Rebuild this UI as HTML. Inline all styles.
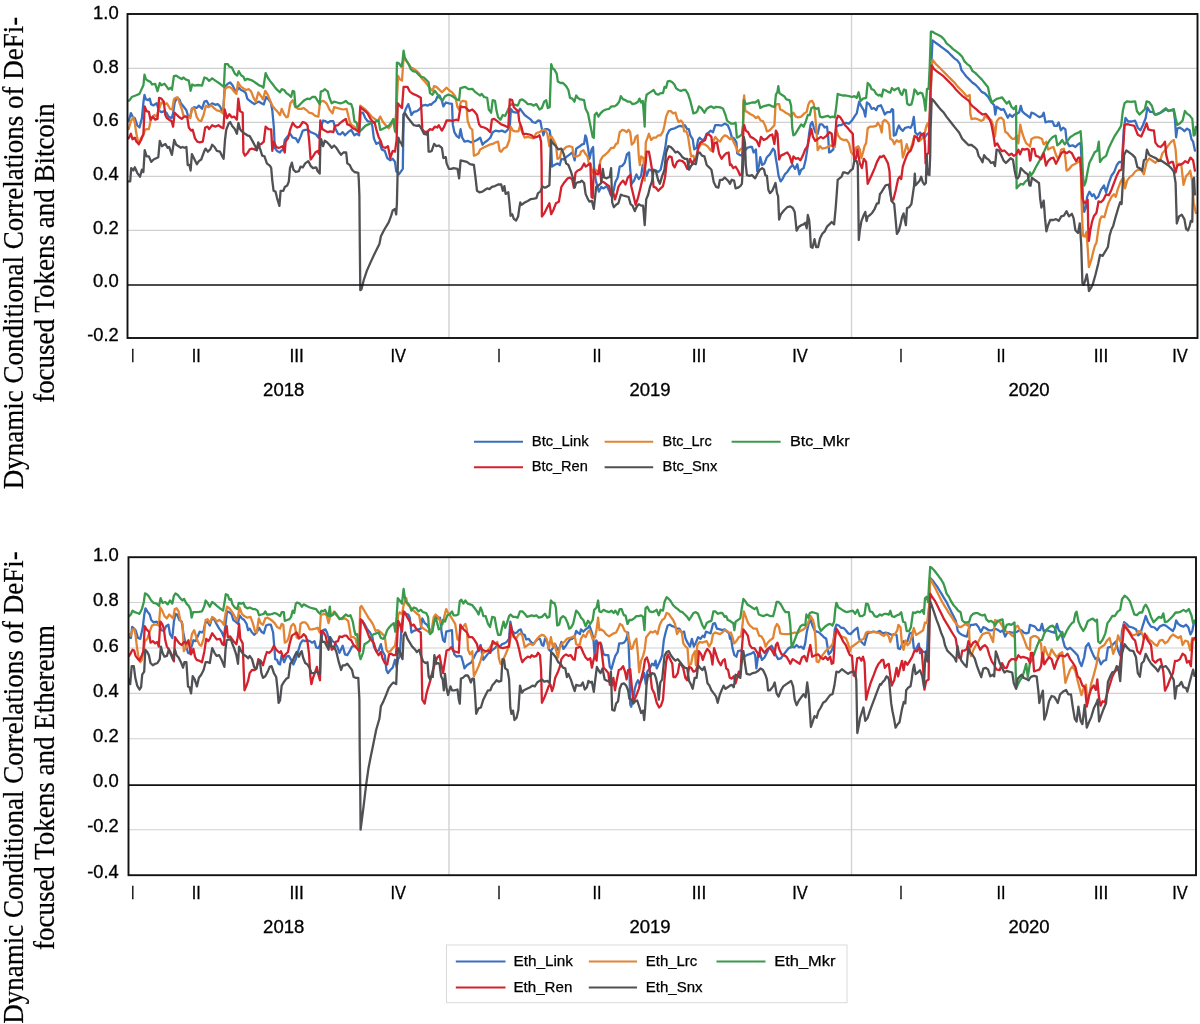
<!DOCTYPE html>
<html><head><meta charset="utf-8"><title>DCC charts</title>
<style>
html,body{margin:0;padding:0;background:#fff;}
svg{display:block}
.ax{font-family:"Liberation Sans",sans-serif;font-size:17.5px;fill:#000;stroke:#000;stroke-width:0.3}
.lg{font-family:"Liberation Sans",sans-serif;font-size:14.5px;fill:#000;stroke:#000;stroke-width:0.25}
.yt{font-family:"Liberation Serif",serif;font-size:27px;fill:#000;stroke:#000;stroke-width:0.2}
.s{fill:none;stroke-width:2.3;stroke-linejoin:round;stroke-linecap:round}
.g{stroke:#d0d0d0;stroke-width:1.1;fill:none}
</style></head><body>
<svg width="1200" height="1024" viewBox="0 0 1200 1024">
<rect width="1200" height="1024" fill="#fff"/>

<defs><clipPath id="cBtc"><rect x="127.5" y="14" width="1070" height="324"/></clipPath><clipPath id="cEth"><rect x="128" y="556.7" width="1067" height="318"/></clipPath></defs>
<text class="ax" x="118.7" y="19.0" text-anchor="end" textLength="25.6" lengthAdjust="spacingAndGlyphs">1.0</text>
<line class="g" x1="127.5" x2="1197.5" y1="68.40" y2="68.40"/>
<text class="ax" x="118.7" y="72.7" text-anchor="end" textLength="25.6" lengthAdjust="spacingAndGlyphs">0.8</text>
<line class="g" x1="127.5" x2="1197.5" y1="122.40" y2="122.40"/>
<text class="ax" x="118.7" y="126.3" text-anchor="end" textLength="25.6" lengthAdjust="spacingAndGlyphs">0.6</text>
<line class="g" x1="127.5" x2="1197.5" y1="176.40" y2="176.40"/>
<text class="ax" x="118.7" y="180.0" text-anchor="end" textLength="25.6" lengthAdjust="spacingAndGlyphs">0.4</text>
<line class="g" x1="127.5" x2="1197.5" y1="230.40" y2="230.40"/>
<text class="ax" x="118.7" y="233.6" text-anchor="end" textLength="25.6" lengthAdjust="spacingAndGlyphs">0.2</text>
<text class="ax" x="118.7" y="287.3" text-anchor="end" textLength="25.6" lengthAdjust="spacingAndGlyphs">0.0</text>
<text class="ax" x="118.7" y="341.0" text-anchor="end" textLength="31.5" lengthAdjust="spacingAndGlyphs">-0.2</text>
<line x1="449" x2="449" y1="14" y2="338" stroke="#d2d2d2" stroke-width="1.4"/>
<line x1="851.5" x2="851.5" y1="14" y2="338" stroke="#d2d2d2" stroke-width="1.4"/>
<g clip-path="url(#cBtc)">
<polyline class="s" stroke="#3a6fc0" points="128.6,121.2 130.9,113.1 132.5,116.6 134.8,118.1 137.2,125.2 139.5,127.5 141.9,118.1 143.4,102.5 144.5,95 145.8,99.1 148.1,100.2 149.7,98.6 151.2,104.4 153.6,105.3 156.7,103.3 158.3,108.8 159.8,111.1 161.4,112.2 164.5,111.1 166.9,113.4 168.4,116.6 171.6,118.1 173.1,113.4 174.7,102.5 177,97.8 179.4,99.4 180.9,103.3 184.1,107.2 186.4,110.3 188,115.8 190.3,116.6 191.9,108.8 194.2,107.2 196.6,108 198.9,105.6 202,108.8 204.4,101.7 206.7,100.9 209.1,105.6 212.2,103.3 215.3,104.8 217.7,104.1 220,106.4 223.1,113.4 224.7,86.9 227.8,83.8 230.2,82.5 232.5,85.3 234.8,90 236.4,91.6 238.8,87.7 241.1,90 244.2,91.6 245.8,93.1 247.3,98.6 248.9,100.2 252,102.5 254.4,104.1 256.7,102.5 259.1,101.7 261.4,103.3 263.8,104.4 266.1,97 268.4,99.4 270.8,102.5 272.3,110.3 273.9,127.5 274.7,147.8 277,150.9 280,152.5 280.9,150.9 283.3,149.4 284.8,140 287.2,136.9 290.3,133.8 292.7,137.7 295.8,138.4 298.1,142.3 300.5,136.9 302.8,130.6 305.2,129.8 308.3,129.8 310.6,132.2 313,133 316.1,134.5 318.4,137.7 320,130.6 323.1,120.5 325.5,121.2 327.8,122.8 330.2,121.2 333.3,121.2 335.6,129.1 338,133.8 340.3,134.5 342.7,132.2 345,135.3 348.1,132.2 351.2,129.8 354.4,135.3 356.7,133.8 359.1,135.3 360.6,112.7 363,112.7 365.3,118.1 367.7,121.2 370.8,122 372.3,125.9 373.9,138.4 376.2,143.9 379.4,142.3 381.7,149.4 384.8,150.9 387.2,158 390.3,160.3 392.7,158.8 395,161.9 396.2,171.2 397.3,172 398.9,174.4 401.2,171.2 402.8,168.9 403.6,115 405.9,108.8 408.3,104.1 409.8,108.8 411.4,115 413.8,111.9 416.9,111.1 419.2,109.5 422.3,105.6 425.5,104.8 427.8,105.6 430,104.1 430.9,104.8 433.3,102.5 435.6,100.9 437.2,97 439.5,95.5 441.9,100.9 443.4,106.4 445.8,102.5 448.9,103.3 452,103.8 452.8,124.4 454.4,132.2 456.7,136.1 459.1,137.7 460.6,129.1 462.2,137.7 464.5,141.6 467.7,140.8 470.8,142.3 473.9,141.6 477,140 480.2,137.7 482.5,144.7 484.8,142.3 487.2,140.8 490.3,137.7 492.7,132.2 495.8,130.6 498.9,131.4 502,130.6 505.2,132.2 508.3,129.1 509.8,126.7 510.9,108.8 513,111.9 516.1,112.7 518.4,111.9 520,108.8 522.3,111.9 524.7,115 527.8,117.3 530.9,119.7 532.5,122 535.6,122.8 538,120.5 540.3,120.9 541.9,129.1 543.4,135.3 545,129.1 547.3,129.1 549.7,130.6 550.9,139.2 552,166.6 554.4,165 557.5,163.4 559.8,165 561.4,158.8 563.8,159.5 566.1,157.2 569.2,154.8 572.3,152.5 574.7,160.3 576.2,148.6 578.6,147 580,146.2 581.7,144.7 584.1,143.9 585.3,135.3 586.4,137.7 588,147.8 589.5,158.8 591.6,149.4 593.1,147 594.2,169.7 595.8,180.6 597.3,186.1 598.9,191.6 601.2,186.9 603.6,188.4 606.7,186.1 609.1,190.8 611.4,196.2 613.8,190 615.3,182.2 617.7,177.5 619.7,166.6 622.3,165.8 624.7,162.7 627,154.1 629.1,152.5 630.2,169.7 631.7,183.8 634.1,180.6 636.4,174.4 638.8,179.1 641.1,175.9 642.7,165 644.7,168.1 646.6,175.9 648.9,169.7 651.2,170.5 653.6,169.7 655.9,170.5 658.3,172 660.6,169.7 663,158.8 665.3,147.8 666.9,135.3 669.2,130.6 671.6,129.1 674.7,128.3 677.8,126.7 680.2,125.9 682.5,126.7 684.8,125.2 687.2,129.1 688.8,129.1 690.3,135.3 692.7,139.2 694.2,149.4 696.6,147.8 698.1,140 699.7,137.7 702,140 704.4,139.2 706.7,133.8 709.1,132.2 710.6,130.6 713,132.2 715.3,125.2 718.4,125.2 721.6,125.6 724.7,123.6 727.8,125.2 730,130.6 731.7,136.9 734.1,138.4 736.4,142.3 737.2,153.3 739.5,154.8 741.9,155.6 743.4,147.8 745,150.9 747.3,147.8 749.7,147 752,147 753.6,152.5 755.9,149.4 757.2,171.2 759.1,165 760.3,157.2 762.2,165 764.5,163.4 766.9,157.2 770,154.1 773.1,148.6 774.7,150.9 775.9,158.8 777,165 778.6,175.9 780.6,181.4 782.5,179.1 784.8,174.4 787.2,172 790.3,167.3 792.7,165 795,168.9 797.3,164.2 799.4,174.4 801.2,169.7 803.6,168.1 805.6,160.3 807.5,147.8 809.1,133.8 810.6,124.4 812.2,122 813.8,127.5 815.3,132.2 817.7,133.8 819.7,124.4 822.3,124.4 824.7,127.5 827,126.7 828.1,135.3 829.1,152.5 830.9,151.7 833.3,149.4 834.8,136.9 836.4,126.7 838.8,125.2 841.1,125.2 843.4,123.6 845.8,122.8 848.9,123.6 852,120.5 854.4,116.6 856.7,113.4 859.1,101.7 861.4,106.4 863.8,110.3 865.3,116.6 866.9,102.5 869.2,104.1 871.6,108.8 873.9,108 876.2,110.3 877.8,106.4 880,105.6 880.9,105.2 883.3,110.6 884.8,114.5 887.2,112.2 890.3,112.2 891.9,109.1 893.1,109.8 893.8,135.6 895.8,134.8 897.3,129.4 898.9,125.5 900.5,128.6 902.8,130.9 905.2,127.8 908.3,127 910.6,127.8 912.2,124.7 913.8,116.9 915.3,132.5 917.7,134.8 920,132.5 922.3,135.6 924.7,137.2 927,134.1 929.4,132.5 930.6,98.1 931.7,57.5 932.5,40.3 935.6,42.7 938.8,45 941.9,47.3 945,49.7 948.1,52 951.2,55.2 954.4,58.3 957.5,60.6 959.8,63.8 961.4,70 963.8,73.1 966.1,76.2 969.2,79.4 972.3,82.5 975.5,84.8 978.6,88 981.7,91.9 984.8,93.4 988,96.6 991.1,102 994.2,105.2 995.3,114.5 996.6,106.7 998.9,108.3 1001.2,109.8 1003.6,109.1 1005.9,113.8 1007.8,117.7 1009.8,114.5 1012.2,116.9 1014.5,114.5 1016.9,113.8 1019.2,112.2 1020.8,105.9 1022.3,111.4 1024.7,113.8 1027,115.3 1030,117.7 1031.4,112.7 1034.1,113.6 1036.7,115.4 1039.3,117.1 1042,116.2 1043.7,112.7 1045.5,122.4 1048.1,121.5 1052.5,121.5 1054.3,125.9 1056.9,125.9 1058.7,122.4 1060.8,130.3 1063.1,127.7 1065.4,129.4 1066.6,140.9 1069.2,146.1 1072.7,145.3 1075.4,147 1078,144.4 1080.6,142.6 1081.9,165.5 1082.9,200.6 1084.2,211.9 1085.9,207.5 1087.1,196.9 1089.4,191.7 1092.1,196.1 1093.8,194.3 1095.9,198.7 1098.2,196.9 1100.9,189.9 1104,185.5 1106.1,192.5 1108.8,182.9 1111.4,175.8 1114,172.3 1116.7,165.3 1119.3,161.8 1122,162 1123.7,130.3 1125.5,118 1128.1,121.5 1131.6,121.5 1135.1,120.6 1137.8,127.7 1140.4,130.3 1143,125 1145.7,118 1147.4,107.5 1150.1,111.9 1152.7,111.9 1155.4,114.5 1158,113.6 1160.6,112.7 1163.3,111 1165.9,109.2 1168.5,111 1171.2,110.1 1173.8,111 1175,119.8 1176.1,137.3 1177.3,128.6 1180,127.7 1182.6,129.4 1184.4,131.2 1187,128.6 1189.6,130.3 1191.4,139.1 1193.1,141.7 1194.9,150.5"/>
<polyline class="s" stroke="#e28432" points="128.6,129.1 130.9,121.2 133.3,117.3 134.8,122.8 136.4,133.8 138.8,144.7 141.1,137.7 143.4,135.3 145,129.8 146.6,129.1 148.9,129.1 150.5,121.2 152,117.3 154.4,115 156.7,116.6 159.1,108.8 161.4,102.5 164.5,104.1 166.9,103.3 170,108.8 172.3,109.5 173.9,99.4 175.5,97.8 177.8,97.5 179.4,102.5 181.7,108.8 183.3,115 185.6,116.6 188.8,116.6 190.3,118.1 191.9,108.8 193.4,108 195,110.3 196.6,116.6 198.9,120.5 201.2,121.2 203.6,115 205.9,105.6 208.3,107.2 211.4,105.3 213.8,108 216.9,110.3 220,111.1 223.1,113.4 224.7,90 226.2,87.7 229.4,86.9 231.7,88.4 234.1,91.6 236.4,93.9 238,82.2 240.3,86.1 243.4,88.4 245.8,90 248.9,89.2 251.2,91.6 253.6,97.8 255.9,101.7 258.3,92.3 260.6,95.5 263,99.4 265.3,90.8 267.7,94.7 270,100.2 272.3,105.6 274.7,108.8 277,111.1 280,115 281.7,108.8 284.1,114.2 286.4,117.3 288,116.6 290.3,103.3 292.7,100.2 295,106.4 298.1,108.8 301.2,108.8 303.6,108 306.7,110.3 309.1,112.7 312.2,113.4 315.3,115.8 318.4,116.6 320,102.5 322.3,100.9 324.7,101.7 327,104.1 329.4,109.5 332.5,113.4 334.1,107.2 337.2,108 340.3,108.8 343.4,109.5 346.6,108.8 348.1,115 350,122.8 352,125.2 354.4,126.7 356.7,129.1 358.8,132.2 360.3,105.6 362.2,107.2 365.3,109.5 368.4,112.7 371.6,116.6 374.7,118.9 377.8,121.2 380.2,116.6 382.5,121.2 385.6,125.2 388.8,128.3 391.1,125.2 393.4,119.7 395,129.1 396.6,105.6 398.1,75.9 399.7,79.1 402,80.6 403.6,57.2 405.9,60.3 408.3,63.4 410.6,67.3 413.8,68.9 416.9,71.2 419.2,73.6 421.6,78.3 424.7,81.4 427.8,85.3 430,88.4 432.5,90.8 434.1,86.1 436.4,86.9 438.8,89.2 441.9,92.3 444.2,90 446.6,87.7 448.9,90 452,92.3 455.2,96.2 457.5,107.2 459.1,109.5 460.9,101.7 463,100.9 466.1,101.7 467.7,121.2 470,127.5 472.3,129.8 473.9,155.6 476.2,154.8 478.6,153.3 480.2,149.4 483.3,147.8 486.4,146.2 489.5,144.7 492.7,143.9 495.8,142.3 498.1,141.6 499.7,150.9 501.2,151.7 503.6,148.6 506.7,147 509.4,140 510.6,126.7 513,130.6 515.3,131.4 518.4,131.4 520,125.9 521.6,130.6 524.7,137.7 527.8,136.9 530.9,137.7 533.3,138.4 536.4,133 539.5,132.2 542.7,129.8 545,129.8 547.3,133.8 549.4,146.2 551.2,136.1 553.6,140 555.9,144.7 557.5,158.8 559.8,158 561.4,150.9 563.8,149.4 566.1,147 569.2,146.2 572.3,147 573.9,156.4 577,156.4 580,154.8 580.9,151.7 583.3,150.2 585.6,154.1 587.5,156.4 588.8,163.4 590.6,164.2 591.9,169.7 594.2,174.4 595.8,169.7 597.3,171.2 598.9,170.5 600.5,160.3 602.8,156.4 605.2,154.8 608.3,151.7 611.4,147.8 613.8,147.8 616.1,143.9 617.7,143.1 619.7,132.2 622.3,129.8 624.7,130.6 626.6,132.2 628.6,129.8 630.2,132.2 631.7,144.7 634.1,142.3 635.6,136.9 637.5,135.3 638.8,156.4 639.8,165 641.1,156.4 643.4,158 644.7,180.6 645.8,142.3 647.3,138.4 648.9,133.8 651.2,140 653.6,137.7 655.9,137.7 658.3,135.3 660.6,135.3 663,131.4 664.5,125.2 666.1,116.6 668.4,111.1 670.8,111.1 673.1,113.4 675.5,112.7 677,118.1 678.6,122 680.9,120.5 682.8,122.8 684.1,131.4 686.4,131.4 688,136.1 689.5,146.2 691.1,156.4 693.4,155.6 695,161.1 696.9,154.1 698.1,149.4 700.5,144.7 702.8,143.9 705.2,144.7 707.5,146.2 709.8,149.4 711.4,150.9 713,141.6 715.3,136.9 717.7,140 720,141.6 722.3,137.7 724.7,135.3 727,136.1 730,139.2 731.7,137.7 734.1,143.1 736.4,147.8 738,152.5 740.3,149.4 742.7,147.8 743.4,102.5 744.2,95.5 745.3,111.1 747.3,111.9 750.5,114.2 753.6,115.8 755.9,118.1 758.3,116.6 760.6,120.5 763,121.2 765.3,125.9 766.9,131.4 769.2,130.6 771.6,128.3 774.4,125.2 775.5,105.6 777,104.1 779.1,104.1 780.2,109.5 782.5,110.3 785.6,112.7 788.8,114.2 791.1,116.6 793.4,112.7 795.8,116.6 798.1,117.3 801.2,116.6 804.4,113.4 806.7,111.9 808.3,104.8 809.8,101.7 812.2,100.9 813.8,104.1 815,113.4 816.6,132.2 817.7,150.2 820,146.2 822.3,148.6 825.5,147.8 827.8,147 830.2,145.5 832.5,146.2 834.8,147 836.4,129.1 838,135.3 840.3,138.4 843.4,140 846.6,140 848.9,143.1 851.2,152.5 853.6,154.8 855.9,147.8 858.3,146.2 859.8,149.4 861.4,158 863,152.5 864.5,146.2 866.1,143.1 867.7,128.3 870,126.7 873.1,126.7 876.2,125.9 877.8,122.8 880,125.9 881.7,132.5 882.8,121.6 884.8,120 887.2,121.6 889.1,124.7 890.3,138.8 892.7,140.3 894.2,144.2 896.6,140.3 898.9,141.9 901.2,140.3 902.8,157.5 904.4,152.8 906.7,144.2 908.3,149.7 909.8,151.2 912.2,144.2 914.5,135.6 916.9,137.2 919.2,141.1 921.6,138.8 923.9,137.2 926.2,126.2 927.8,123.1 929.4,129.4 930.6,98.1 931.7,66.9 932.5,59.8 935.6,63.8 938.8,66.9 941.9,70 945,73.1 948.1,76.2 951.2,79.4 954.4,82.5 957.5,86.4 960.6,89.5 963.8,92.7 966.9,96.6 969.7,95 970.3,113.8 971.6,119.2 974.7,118.4 977.8,119.2 980.9,120.8 983.3,120 984.8,116.1 988,118.4 991.1,120 993.4,126.2 995,136.4 996.6,121.6 998.9,118.4 1001.2,117.7 1003.6,120 1005.2,131.7 1007.5,133.3 1009.8,136.4 1012.2,138.8 1014.5,138.8 1016.9,135.6 1018.4,143.4 1020.3,124.7 1021.6,130.9 1023.9,138 1026.2,143.4 1028.6,145 1030,146.6 1031.4,139.1 1034.9,137.3 1038.5,137.3 1042,139.1 1043.7,144.4 1046.4,141.7 1048.1,149.6 1050.8,147.9 1053.4,147 1056,154.9 1057.8,158.4 1059.6,155.8 1061.3,149.6 1063.9,148.8 1065.4,158.4 1066.6,170.7 1069.2,169 1071.9,165.5 1075.4,163.7 1078,162 1080.6,160.2 1081.5,200.4 1082.9,235.6 1084.7,236.5 1086.4,232.1 1087.7,247.9 1088.9,267.2 1091.2,260.2 1092.9,253.2 1094.7,246.2 1096.5,242.6 1098.2,230.3 1100,219.8 1101.7,216.3 1104.4,217.1 1107,207.5 1108.8,202.2 1111.4,196.9 1114,194.3 1115.8,196.9 1117.6,189.9 1120.2,182.9 1122,179.4 1123.7,177.8 1125.1,188.3 1127.2,180.4 1129.9,176.9 1132.5,175.1 1135.1,171.6 1137.8,169.9 1141.3,169.9 1143.9,174.3 1146.6,162 1149.2,158.4 1151.8,160.2 1155.4,162.8 1158,160.2 1160.6,159.3 1162.4,153.2 1165,150.5 1167.7,146.1 1171.2,141.7 1173.8,140 1175.6,149.6 1176.8,165.5 1179.1,163.7 1181.4,165.5 1183.5,184.8 1186.1,176 1188.8,173.4 1190.2,170.7 1191.9,179.5 1193.7,202.4 1195.8,212.9"/>
<polyline class="s" stroke="#3a9a4c" points="128.6,100.9 130.2,99.4 131.7,97 135.6,95.5 139.5,93.9 141.9,88.4 143.4,85.3 144.5,74.7 145.8,79.1 148.1,80.9 150.5,81.9 152,84.5 155.2,83.8 157.5,91.2 159.8,83 161.4,85.3 164.5,83.8 166.9,86.9 168.4,89.2 170.8,87.7 172,89.7 173.9,76.2 176.2,75.6 178.6,77.2 181.7,79.1 183.3,77.5 185.6,79.4 188.8,80.6 190.6,90.8 192.2,84.5 194.2,85.6 198.1,85 202,85.6 204.4,77.5 206.7,78.3 209.1,80.9 212.2,78.3 215.3,80.6 220,83.8 223.9,86.9 225,64.2 227.8,64.2 229.4,66.6 231.7,67.3 234.8,73.6 237.2,75.6 238.8,71.2 241.1,75.2 243.4,76.7 245,80.3 247.3,78.8 250.5,79.8 252.8,80.9 255.9,83 259.1,85.3 261.4,86.1 263.4,87.7 265.6,73.1 267.7,77.5 270,80.9 272.3,83.8 274.7,86.9 277,89.7 280,92.3 281.7,89.2 284.1,90 286.4,93.1 288.8,94.7 291.1,97 292.7,90.8 294.2,91.6 295.5,107.2 298.1,106.4 301.2,103.3 304.4,100.2 307.5,98.6 309.8,99.1 312.2,97 315.3,97 317.7,100.9 319.7,104.1 320.8,91.6 323.1,90.8 324.7,89.2 327.8,91.6 329.4,97.8 331.7,103.3 334.1,101.7 337.2,102.5 340.3,103.3 343.4,102.5 345.8,100.9 348.1,103.3 351.2,104.1 352.8,108.8 354.4,121.2 356.7,122.8 357.8,128.3 359.8,131.4 362.2,129.1 365.3,125.9 368.4,124.4 371.6,122.8 373.9,122.8 376.2,121.2 378.6,120.5 380.2,129.8 382.5,129.1 385.6,127.5 388.8,125.9 391.1,122.8 393.4,118.9 395,131.4 395.8,132.2 396.9,62.7 398.9,63.4 401.2,66.6 402.5,61.9 403.6,50.6 404.7,57.2 406.7,61.1 409.1,65 410.6,68.9 413,71.2 416.1,72 418.4,74.4 420.8,76.7 423.9,77.5 426.2,79.8 428.6,82.2 430,93.1 432.5,94.7 434.8,90.8 437.2,93.9 439.5,97.8 442.7,100.2 445,96.2 448.1,94.7 451.2,95.5 453.6,97 456.7,99.4 459.1,100.2 460.3,88.4 462.2,87.7 465.3,86.9 468.4,89.2 472.3,88.8 474.7,91.6 477.8,93.9 480.2,95.5 481.7,93.9 484.1,97 487.2,97.8 488.8,109.5 491.1,112.7 492.7,100.2 495,100.9 496.6,111.1 498.1,117.3 500.5,119.7 502.8,115 505.2,115.8 507.5,111.1 509.8,105.6 512.2,104.1 515.3,104.8 517.7,105.6 520,100.2 522.3,99.4 525.5,101.7 527.8,104.1 530.9,104.1 533.3,105.6 536.4,104.1 539.5,109.5 541.9,108 544.2,101.7 546.2,100.2 547.8,108 549.7,107.2 551.2,64.2 552.5,68.1 554.4,69.7 556.7,73.6 557.8,81.4 560.6,83 563,83 566.1,86.1 568.4,90 570,97.8 572.3,98.6 574.4,101.7 576.2,95.5 577.8,97.8 580,99.4 580.9,99.4 584.1,100.2 585.6,108.8 588,113.4 589.5,121.2 591.1,129.1 592.7,136.9 593.8,137.7 594.7,115 596.6,112.7 598.4,116.6 600.5,113.4 602.8,111.1 605.9,109.5 609.1,108.8 611.4,106.4 614.5,106.4 616.9,104.8 619.2,101.7 620.8,96.2 623.1,99.4 625.5,100.2 627.8,101.7 630.2,101.7 632.5,104.1 635.6,103.3 638,101.7 639.5,98.6 641.1,102.5 642.7,100.9 643.8,113.4 644.7,126.7 645.3,102.5 646.6,94.7 648.9,93.1 651.2,91.6 653.6,90 655.9,93.9 658.3,94.7 660.6,93.1 663,93.1 664.5,86.9 666.1,87.7 667.7,81.4 670,80.9 672.3,82.2 674.4,84.5 676.2,88.4 678.6,90 680.9,90.8 683.3,90 685.6,90 688,93.9 690.3,100.9 691.9,107.2 693.4,113.4 695.8,112.7 697.3,111.1 698.9,106.4 701.2,108 704.4,112.7 706.7,108.8 709.1,107.2 711.4,106.4 713.8,108 716.1,106.9 718.4,107.2 720.8,107.5 723.1,108.8 725.5,115 727,120.5 728.6,122 730,122.8 730.9,123.6 733.3,123.6 735.6,122.8 736.9,137.7 738.8,136.9 741.9,134.5 743.1,124.4 743.9,100.2 745.8,104.1 748.9,103.3 752,102.5 755.2,102.5 758.3,100.2 760.3,108 763,106.4 766.1,105.6 769.2,104.8 772.3,106.4 774.7,107.2 775.9,94.7 777.5,91.6 778.3,86.1 779.4,93.1 781.7,94.7 784.1,96.2 786.4,99.4 789.5,100.2 791.1,105.6 792.2,127.5 793.4,135.3 795,134.5 797.3,130.6 799.7,126.7 801.2,124.4 803.6,126.7 805.9,121.2 807.8,115 809.8,115 811.4,108 813.8,107.2 816.1,108.8 818.4,108 820,116.6 822.3,117.3 824.7,116.6 827.8,115.8 830.2,117.3 832.5,116.6 834.8,117.3 836.4,105.6 837.7,93.9 839.5,94.7 842.7,95.5 845.8,95.5 848.9,96.2 852,97 854.4,96.2 856.7,97.8 858.6,92.3 860.6,100.9 863,98.6 866.1,97.8 867.7,83 870,85.3 871.6,89.2 873.9,90 876.2,93.9 878.6,95.5 880,94.7 881.7,96.6 883.3,89.5 885.6,90.3 888,91.9 890.3,92.7 891.9,88 894.2,90.3 896.6,88.8 898.4,88 900.5,93.4 902,95 904.1,89.5 905.9,90.3 907.2,103.6 909.1,105.2 911.4,104.4 913,98.1 914.5,89.5 916.1,91.1 917.7,94.2 920,92.7 922.3,93.4 923.9,98.9 925.5,110.6 927,88.8 928.6,88.8 929.7,66.9 930.9,31.7 932.5,31.7 934.8,33.3 938,34.8 941.1,36.4 944.2,39.5 946.6,43.4 949.7,45.8 952.8,48.9 955.9,51.2 959.1,53.6 962.2,56.7 964.5,61.4 966.9,63.8 970,66.1 972.3,70.8 975.5,73.1 978.6,76.2 981.7,79.4 984.8,83.3 988,87.2 989.5,95 991.9,102.8 993.4,101.2 996.6,98.9 999.7,98.1 1002,97.3 1004.4,100.5 1006.7,103.6 1009.1,101.2 1011.4,106.7 1013.8,109.1 1016.1,105.9 1016.6,188.4 1018.4,186.1 1020.8,183.8 1023.1,184.5 1025.5,181.4 1027.8,179.8 1029.4,174.4 1030,172.3 1030.5,176 1033.2,172.5 1035.8,167.2 1039.3,161.1 1042,155.8 1044.6,150.5 1047.2,144.4 1049.9,140 1052.5,137.3 1055.7,135.6 1057.3,145.3 1059.6,143.5 1062.2,140 1064.8,144.4 1067.5,140.9 1070.1,137.3 1072.7,135.6 1075.4,133.8 1078,132.9 1080.6,131.2 1081.9,147.9 1082.9,176 1084.2,185.7 1085.9,181.3 1087.7,170.7 1089.4,162.8 1092.1,157.6 1094.7,152.3 1097.3,150.5 1098.8,141.7 1100,162 1102.6,158.4 1106.1,155.8 1108.8,147.9 1111.4,142.6 1114.9,135.6 1118.4,130.3 1121.1,125.9 1122.8,111 1124.6,103.1 1127.2,101.3 1130.7,101.8 1135.1,101.3 1136.9,111 1139.5,114.5 1142.2,111.9 1144.8,109.2 1146.6,101.3 1149.2,102.2 1151.8,105.7 1154.5,114.5 1157.1,114.5 1160.6,112.7 1163.3,110.1 1165.9,108.3 1168.5,111 1171.2,110.1 1173.8,109.2 1175.6,118 1177.3,125 1180,123.3 1182.6,120.6 1184.9,111 1187,113.6 1189.6,115.4 1192.3,118.9 1193.7,135.6 1194.9,134.7 1195.8,126.8"/>
<polyline class="s" stroke="#d3222d" points="128.6,138.4 130.9,133.8 132.5,139.2 134.8,137.7 136.4,141.6 138.8,143.9 141.1,140 143.4,133.8 144.7,106.4 146.6,111.1 148.9,111.9 150.5,119.7 152.8,116.6 155.2,119.7 157.5,118.9 159.1,97.8 161.4,98.6 163.8,101.7 165.3,115 166.9,118.1 169.2,119.7 171.6,121.2 173.1,126.7 174.7,112.7 177,115 179.4,117.3 181.7,118.9 184.1,116.6 187.2,116.6 188.8,127.5 191.1,130.6 192.7,129.8 195,138.4 197.3,141.6 199.7,142.3 202.8,141.6 205.2,127.5 207.5,126.7 209.1,129.1 212.2,125.2 215.3,126.7 218.4,125.2 221.6,127.5 223.4,128.3 224.7,109.5 227,118.1 229.4,114.2 231.7,117.3 234.1,116.6 236.9,119.7 238.3,98.6 240,111.1 242.7,112.7 243.4,152.5 245,155.6 247.3,153.3 249.7,149.4 252,148.6 254.4,149.4 256.7,150.2 259.1,144.7 261.4,143.9 263.8,141.6 265.6,126.7 268.4,129.1 271.2,129.4 272.3,150.9 273.9,141.6 276.2,147 278.6,147.8 280,147.5 282.5,146.2 284.8,152.5 285.6,141.6 288,138.4 290.3,129.1 292.7,122.8 295,125.9 297.3,127.5 299.7,126.7 302.8,122 305.2,122.8 307.5,125.2 309.1,140 310.6,159.5 313,156.4 315.3,152.5 317.7,150.9 319.2,154.1 320.3,120.5 322.3,129.1 324.7,130.6 327.8,132.2 330.2,131.4 333.3,132.2 334.8,125.9 338,125.2 340.3,122.8 343.4,120.5 345.8,118.9 347.3,124.4 349.7,125.2 352.8,128.3 355.9,129.8 359.1,132.2 360.3,107.2 362.2,108.8 365.3,111.1 367.7,113.4 370,118.1 372.3,121.2 374.7,122.8 376.2,129.1 378.6,136.9 380.9,141.6 382.5,147 385.6,147.8 388,146.2 390.3,158 392.7,150.9 395,151.7 396.6,140 397.8,103.3 399.7,105.6 402,108 403.6,86.9 407.5,86.9 409.8,91.6 413,93.9 416.9,95.5 420.8,97.8 422.3,129.1 424.7,132.2 427.8,131.4 430,129.1 432.5,129.8 434.8,126.7 437.2,127.5 438.8,125.2 441.9,130.6 444.2,126.7 446.6,120.5 449.7,120.5 452.8,120.9 455.9,119.7 458.3,120.5 460.6,106.4 463,107.2 465.3,107.2 466.9,108.8 469.2,111.1 472.3,109.5 474.7,111.9 477,115 479.1,124.4 480.9,126.7 484.1,127.5 487.2,129.1 490.3,132.2 491.9,119.7 494.2,118.9 497.3,121.2 501.2,124.4 505.2,125.9 508.3,127.5 509.8,99.4 512.2,100.2 513.8,107.2 516.1,109.5 518.1,111.1 519.2,121.2 521.6,127.5 523.1,133.8 526.2,133.8 529.4,134.5 531.7,135.3 534.1,137.7 537.2,136.9 539.5,135.3 541.1,141.6 541.6,163.4 541.9,216.6 544.2,213.4 547.3,207.2 549.4,203.3 551.2,214.2 553.6,209.5 555.9,203.3 558.8,201.7 559.8,196.2 561.4,186.9 564.5,182.2 567.7,178.3 570,177.5 572.3,179.8 573.9,187.7 575.5,172.8 577.8,170.5 580,169.7 581.7,168.1 584.1,163.4 585.6,166.6 588,165 590.3,163.4 591.6,197 592.7,197.8 593.8,169.7 595.8,173.6 598.1,174.4 599.7,165 601.2,181.4 603.6,182.2 606.7,184.5 609.1,186.1 610.9,194.7 613,191.6 615,199.4 616.9,193.1 618.4,186.9 620.8,183 623.1,180.6 625.5,184.5 627.8,177.5 630.2,175.2 631.2,186.1 633.3,194.7 635.6,204.8 638,197.8 640.3,188.4 641.9,181.4 644.2,173.6 645.8,161.9 646.6,151.7 648.9,151.7 650.5,160.3 652,169.7 653.6,186.9 655.9,187.7 658.3,190.8 660.6,188.4 663,186.1 665,177.5 666.9,161.1 669.2,156.4 671.6,157.2 673.1,165 674.7,167.3 677,161.9 679.4,160.3 682.5,161.1 684.8,163.4 687.2,168.9 690,158.8 691.9,163.4 694.2,160.3 696.6,158 698.1,147.8 700.5,142.3 702.8,141.6 705.2,140 706.7,134.5 709.1,134.5 711.4,136.9 713,151.7 714.5,143.1 716.9,142.3 719.2,154.1 721.6,158.8 723.9,155.6 726.2,153.3 728.6,152.5 730,165 730.9,164.2 733.3,168.1 735.6,166.6 738,170.5 740,175.2 741.9,174.4 743.4,129.1 744.2,125.2 745.8,130.6 748.1,132.2 750.5,136.9 753.6,138.4 756.7,140.8 759.1,146.2 760.9,136.9 763.8,140 766.9,138.4 770,135.3 772.3,134.5 774.4,143.9 775.9,130.6 777.5,133.8 779.1,159.5 780.9,155.6 784.1,154.1 787.2,152.5 789.5,155.6 791.9,163.4 793.4,156.4 795.8,158.8 798.1,158 800.5,160.3 802.8,155.6 805.2,149.4 807.5,146.2 809.8,135.3 811.4,129.1 813,136.9 815.3,140.8 817.7,139.2 820.8,136.9 823.1,138.4 826.2,136.1 829.4,132.2 831.7,133.8 832.8,146.2 834.8,143.9 836.4,119.7 838,115.8 840.3,117.3 842.7,121.2 845,125.2 847.3,127.5 850.5,131.4 852.8,133.8 854.1,159.5 855.9,158.8 857.5,149.4 859.8,163.4 861.9,168.1 863.8,158.8 866.1,161.9 867.7,183.8 869.2,180.6 871.6,175.2 874.7,168.1 877,161.9 880,156.4 881.2,157.2 883.8,155.6 885.6,158.8 888,163.4 889.5,171.2 890.6,193.1 891.6,200.9 893.4,199.4 895.8,190 898.1,179.1 899.7,176.7 901.2,179.1 902.8,166.6 904.4,161.9 906.7,155.6 908.3,152.5 910.6,150.9 913,144.7 914.5,136.4 916.9,137.2 918.4,141.1 920.8,134.8 923.9,133.3 925,145 925.6,163.4 927,154.4 928.6,152.8 930.2,98.1 931.7,65.3 934.1,69.2 937.2,71.6 940.3,73.9 943.4,76.2 946.6,79.4 949.7,82.5 952.8,85.6 955.9,89.5 959.1,92.7 962.2,95.8 965.3,98.1 969.2,101.2 970.8,104.4 973.1,106.7 976.2,109.1 979.4,112.2 982.5,114.5 985.6,113.8 988.8,117.7 991.1,123.1 993.4,134.8 995,145.8 997.3,143.4 999.7,148.1 1002,151.2 1004.4,150.5 1006.7,152.8 1009.1,155.2 1011.4,153.6 1013.8,155.9 1016.1,154.4 1018.4,149.7 1020,154.4 1022.3,148.9 1024.7,149.7 1027,148.9 1028.6,149.7 1030,160.6 1030.5,160.2 1032,148.8 1034.1,148.8 1035.8,155.8 1038.5,156.7 1041.1,159.3 1043.7,153.2 1046,165.5 1048.1,161.1 1050.8,158.4 1053.4,157.6 1056,163.7 1058.7,158.4 1061.3,153.2 1063.9,151.4 1066.6,153.2 1069.2,151.4 1071.9,153.2 1074.5,158.4 1076.2,161.1 1078.4,157.6 1080.1,157.6 1081.2,174.1 1082.4,197.8 1084.2,203.1 1085.9,202.2 1087.7,199.6 1088.2,226.8 1088.9,240.9 1090.3,230.3 1092.1,221.5 1093.8,216.3 1096.5,212.8 1098.6,201.3 1100.9,202.2 1103.5,199.6 1106.1,194.3 1108.8,195.2 1111.4,189.9 1114,182.9 1116.7,175.8 1119.3,170.6 1121.6,169.7 1123.4,144.4 1124.6,125 1127.2,124.2 1130.7,125 1134.3,125.9 1137.8,134.7 1141.3,136.5 1143.9,130.3 1146.6,123.3 1148.3,129.4 1151.8,130.3 1153.9,130.3 1155.4,142.6 1158,146.1 1160.6,147 1163.3,144.4 1165,141.7 1166.2,154.9 1168.5,163.7 1171.2,162 1172.9,162 1175.6,172.5 1177.3,165.5 1180,164.6 1182.6,163.7 1185.2,161.1 1187.9,162.8 1190.5,157.6 1193.1,160.2 1194.9,170.7"/>
<polyline class="s" stroke="#505154" points="128.6,181.4 130.2,181.4 131.2,168.1 133.3,170.5 134.8,167.3 137.2,172.8 140,176.7 141.9,169.7 143.4,172 144.7,150.2 146.6,156.4 148.9,156.4 151.2,161.9 153.6,159.5 156.7,158 158.3,157.2 159.8,140.8 161.9,146.2 165.3,143.9 167.7,147.8 169.2,147 171.9,154.8 174.2,140 176.2,144.7 178.6,146.2 180.9,147.8 182.5,147 184.4,147.8 186.4,147 187.7,165 189.5,165 190.6,170.5 191.9,154.1 194.2,158.8 196.9,164.2 198.9,161.1 201.2,159.5 204.4,150.9 205.6,148.6 207.8,151.7 210.3,149.4 212.2,144.7 214.5,147 216.9,150.9 220,151.7 222.3,156.4 223.6,158.8 225,140 226.2,129.8 228.6,123.6 230.2,122 232.2,125.9 234.8,129.1 236.9,133.8 238.4,122.8 240,129.1 241.9,131.4 245,133.8 247.3,135.3 249.7,136.1 252.8,141.6 255.2,146.2 256.7,150.2 258.3,142.3 259.8,147.8 262.2,155.6 264.5,156.4 266.9,163.4 270,165.8 271.2,168.1 272.3,180.6 273.6,190.8 275.5,191.6 277,197.8 279.4,205.8 280.6,190.9 283.3,190.9 284.8,187 287.2,185.5 288.8,181.6 290,168.1 291.9,162.7 293.4,169.7 295.8,172 298.9,171.2 300.5,166.6 302.8,167.3 305.2,163.4 308.3,161.1 310.6,165.8 313,168.1 316.1,167.3 317.7,171.2 319.7,173.6 320.3,147.8 321.2,139.2 323.1,146.2 324.7,140.8 327,142.3 329.4,144.7 331.7,147.8 334.1,145.5 336.4,147.8 338.8,151.7 341.1,154.8 343.4,152.5 346.2,152.5 347.3,163.4 349.7,165 352,169.7 354.4,172 358.3,172.8 358.8,180 359.4,195.6 359.8,242.5 360.3,290.2 361.4,289.4 363.8,280 366.9,270.6 370,263.6 374.7,253.4 379.4,244.1 380.9,236.2 384.1,230 388.8,222.2 391.1,215.9 392.7,210.5 395,208.9 396.2,214.4 396.9,203.4 397.8,165 398.4,137.7 399.7,141.6 401.2,143.1 402.5,146.2 403.6,114.2 405.2,113.4 407.5,117.3 410.6,121.2 413.8,125.2 416.9,125.9 419.2,125.2 421.6,129.1 423.9,133.8 426.2,134.5 427.8,132.2 428.6,151.7 430,151.7 431.7,150.9 434.1,143.9 436.4,146.2 438.8,145.5 441.9,147.8 443.4,158 445.8,157.2 446.6,163.4 448.9,168.9 451.2,168.9 453.6,168.1 457.5,168.9 459.1,178.3 460.6,160.3 463.8,161.1 466.9,161.9 470,164.2 473.9,165 475.5,177.5 477,190.8 479.4,192.3 482.5,191.6 484.8,190 487.2,188.4 489.5,189.2 491.9,186.9 495,186.1 498.1,184.5 501.2,184.5 502.8,190.8 504.4,186.1 505.6,193.9 508.3,192.3 509.4,202.5 510.6,215.8 512.2,214.2 513.8,218.9 516.1,220.5 518.1,216.6 519.2,208.8 520.3,202.5 521.6,204.8 524.7,202.5 527.8,200.9 530.9,199.1 534.1,198.6 536.4,198.1 538,193.1 540.3,191.6 542.7,186.6 545,187.7 547.3,186.6 549.4,185.3 550.5,155.6 550.9,140 552.8,143.1 555.9,146.2 558.3,149.4 561.4,148.6 563.8,154.1 566.1,163.4 568.4,165 570.8,171.2 573.1,178.3 574.7,187.7 576.2,183 578.6,182.2 580,182.2 581.7,180.6 584.1,183 585.6,193.9 588,199.4 589.5,201.7 591.9,200.9 593.8,208.8 595,197.8 596.2,186.9 598.9,185.3 601.2,183 602.8,168.9 604.1,177.5 606.7,178.3 609.8,176.7 611.1,168.1 612.2,202.5 613.8,207.2 616.1,204.8 618.4,203.3 620.8,194.7 623.1,195.5 625.5,196.2 628.6,197 630.6,204.1 632.5,205.6 634.8,211.1 636.4,207.2 638.8,204.1 641.1,205.6 643.1,205.6 644.7,225.2 646.2,199.4 648.1,194.7 650,186.9 652,181.4 653.6,170.5 655.9,171.2 658.3,180.6 659.8,183.8 662.2,175.9 664.5,169.7 666.1,152.5 668.4,146.2 670.8,147 673.1,149.4 675.5,152.5 677.8,151.7 680.2,154.1 682.5,157.2 684.8,158.8 687.2,158.8 689.1,169.7 691.1,165.8 693.4,163.4 695.8,164.2 697.8,153.3 699.7,152.5 702,155.6 704.4,156.4 706.7,165 709.1,167.3 711.4,169.7 713.8,182.2 716.1,186.9 718.4,187.7 720,179.8 722.3,179.8 724.7,177.5 727,179.8 728.6,181.4 730,183.8 731.7,179.8 734.1,180.6 735.6,188.4 738,187.7 740.3,186.1 741.9,183.8 743.1,165 743.8,136.9 745,143.1 745.8,165 746.9,175.2 749.7,175.9 752,175.2 755.2,178.3 757.5,173.6 759.8,169.7 762.2,168.1 764.1,169.7 765.3,175.2 766.9,175.9 768.4,190 770,193.1 772.3,190.8 773.9,186.9 775.5,183 777,193.1 778.1,196.2 779.1,219.7 780.9,214.2 784.1,210.3 787.2,207.2 790.3,206.4 792.7,208 794.7,211.9 796.6,230.6 798.9,226.7 801.2,225.2 803.6,224.4 805.2,222.8 806.7,228.3 807.8,215 809.1,219.7 809.8,227.5 810.9,247 812.5,247.8 814.5,239.2 816.1,247 818.1,247 820,238.4 822.3,233.8 824.7,231.4 827,226.7 829.4,224.4 831.7,222 834.1,224.4 835.6,208.8 836.9,191.6 837.7,179.8 839.5,178.3 841.6,176.7 843.1,172.5 845,172.5 848.1,173.6 850.5,170.5 852.8,168.9 854.4,160.3 856.7,161.1 857.8,165 858.3,202.5 858.8,240 859.8,230.6 861.4,221.2 863.8,215 865.3,211.9 866.6,221.2 867.7,216.6 870,215 872.3,212.7 874.7,208.8 877,203.3 878.6,203.3 880,193.9 880.9,193.1 883.3,189.2 885.6,185.3 888.8,184.5 890.3,193.1 891.6,200.9 894.2,204.1 895.5,218.1 896.9,233.8 898.9,230.6 900.5,224.4 902,217.3 903.6,213.4 904.7,219.7 905.9,225.2 907,208 909.1,207.2 911.4,204.1 913,193.1 914.1,185.3 914.8,173.6 915.6,185.3 917.7,183 919.7,180.6 921.2,176.7 922.8,182.2 924.4,184.5 925.9,183 926.6,155.6 927.5,174.4 928.6,169.7 929.4,175.2 930.2,155.6 930.6,129.4 931.7,98.9 934.1,101.2 937.2,105.2 940.3,109.1 943.4,112.2 946.6,116.9 949.7,120.8 952.8,124.7 955.9,128.6 959.1,132.5 962.2,138.8 965.3,141.9 968.4,145 971.6,145 974.7,147.3 977,149.7 978.6,155.9 980.9,159.1 982.5,162.2 984.1,155.2 986.4,158.3 988.8,159.8 991.1,163 993.4,162.2 995,166.1 996.6,149.7 998.9,150.5 1001.2,155.2 1003.6,160.6 1005.9,163 1008.3,160.6 1010.6,158.3 1013,159.8 1014.5,169.7 1016.1,177.5 1017.7,178.3 1019.2,175.9 1020.8,168.1 1023.1,170.5 1025.5,172.8 1027.8,174.4 1029.4,185.3 1030,185.6 1030.5,185.7 1032,177.8 1034.1,179.5 1036.7,181.3 1039,183 1040.2,198.9 1041.4,207.7 1043.7,200.6 1045,218.2 1046.4,231.4 1048.1,225.2 1050.2,220 1053.4,220 1056,219.1 1058.7,220.8 1061.3,216.4 1063.9,215.6 1066.6,211.2 1068.9,216.4 1071.9,213.8 1073.6,218.2 1075.4,230.3 1078,233 1079.8,223.3 1081.2,244.4 1082.4,283.1 1083.6,284.8 1085,281.3 1086.8,274.3 1088.2,283.1 1088.9,291 1091.2,287.5 1092.9,283.9 1095.6,274.3 1098.2,263.7 1100,254.9 1102.6,255.8 1105.3,251.4 1107.9,247 1109.6,235.6 1111.4,229.5 1113.2,225.9 1115.8,216.3 1118.4,207.5 1120.2,202.2 1121.6,204 1122.8,182.9 1124.1,154.9 1126.3,150.5 1129,152.3 1132.5,154.9 1135.1,157.6 1137.4,167.2 1139.5,168.1 1142.2,170.7 1143.9,160.2 1145.7,159.3 1146.9,149.6 1149.2,154.9 1152.7,156.7 1156.2,158.4 1158.9,161.1 1160.6,160.2 1163.3,162 1165.9,163.7 1168.5,165.5 1171.2,168.1 1173.8,171.6 1175.6,183 1176.8,223.5 1179.1,216.4 1181.7,214.7 1184.4,219.1 1186.1,228.8 1187.9,230.5 1189.6,226.1 1190.9,220.8 1192.3,221.7 1193.1,179.5 1194,177.8 1194.9,194.5"/>
</g>
<line x1="127.5" x2="1197.5" y1="285.0" y2="285.0" stroke="#111" stroke-width="1.7"/>
<rect x="127.5" y="14" width="1070.0" height="324" fill="none" stroke="#111" stroke-width="1.9"/>
<text class="ax" x="132.7" y="362.3" text-anchor="middle" textLength="3.5" lengthAdjust="spacingAndGlyphs">I</text>
<text class="ax" x="196.3" y="362.3" text-anchor="middle" textLength="9" lengthAdjust="spacingAndGlyphs">II</text>
<text class="ax" x="296.7" y="362.3" text-anchor="middle" textLength="14.5" lengthAdjust="spacingAndGlyphs">III</text>
<text class="ax" x="398.3" y="362.3" text-anchor="middle" textLength="15.5" lengthAdjust="spacingAndGlyphs">IV</text>
<text class="ax" x="499" y="362.3" text-anchor="middle" textLength="3.5" lengthAdjust="spacingAndGlyphs">I</text>
<text class="ax" x="597" y="362.3" text-anchor="middle" textLength="9" lengthAdjust="spacingAndGlyphs">II</text>
<text class="ax" x="699" y="362.3" text-anchor="middle" textLength="14.5" lengthAdjust="spacingAndGlyphs">III</text>
<text class="ax" x="800" y="362.3" text-anchor="middle" textLength="15.5" lengthAdjust="spacingAndGlyphs">IV</text>
<text class="ax" x="901" y="362.3" text-anchor="middle" textLength="3.5" lengthAdjust="spacingAndGlyphs">I</text>
<text class="ax" x="1001" y="362.3" text-anchor="middle" textLength="9" lengthAdjust="spacingAndGlyphs">II</text>
<text class="ax" x="1101" y="362.3" text-anchor="middle" textLength="14.5" lengthAdjust="spacingAndGlyphs">III</text>
<text class="ax" x="1180" y="362.3" text-anchor="middle" textLength="15.5" lengthAdjust="spacingAndGlyphs">IV</text>
<text class="ax" x="283.7" y="395.6" text-anchor="middle" textLength="41.2" lengthAdjust="spacingAndGlyphs">2018</text>
<text class="ax" x="650" y="395.6" text-anchor="middle" textLength="41.2" lengthAdjust="spacingAndGlyphs">2019</text>
<text class="ax" x="1029" y="395.6" text-anchor="middle" textLength="41.2" lengthAdjust="spacingAndGlyphs">2020</text>
<text class="yt" transform="translate(22.9,253) rotate(-90) scale(1,1.06)" text-anchor="middle">Dynamic Conditional Correlations of DeFi-</text>
<text class="yt" transform="translate(53.9,253) rotate(-90) scale(1,1.06)" text-anchor="middle">focused Tokens and Bitcoin</text>
<line x1="474" x2="523" y1="441.7" y2="441.7" stroke="#3a6fc0" stroke-width="2"/>
<text class="lg" x="531.8" y="445.7" textLength="57" lengthAdjust="spacingAndGlyphs">Btc_Link</text>
<line x1="604.6" x2="653.2" y1="441.7" y2="441.7" stroke="#e28432" stroke-width="2"/>
<text class="lg" x="662.6" y="445.7" textLength="49.1" lengthAdjust="spacingAndGlyphs">Btc_Lrc</text>
<line x1="731.6" x2="780.6" y1="441.7" y2="441.7" stroke="#3a9a4c" stroke-width="2"/>
<text class="lg" x="790" y="445.7" textLength="59.6" lengthAdjust="spacingAndGlyphs">Btc_Mkr</text>
<line x1="474" x2="523" y1="467.3" y2="467.3" stroke="#d3222d" stroke-width="2"/>
<text class="lg" x="531.8" y="471.3" textLength="56" lengthAdjust="spacingAndGlyphs">Btc_Ren</text>
<line x1="604.6" x2="653.2" y1="467.3" y2="467.3" stroke="#505154" stroke-width="2"/>
<text class="lg" x="662.6" y="471.3" textLength="54.7" lengthAdjust="spacingAndGlyphs">Btc_Snx</text>
<text class="ax" x="118.7" y="561.1" text-anchor="end" textLength="25.6" lengthAdjust="spacingAndGlyphs">1.0</text>
<line class="g" x1="128.5" x2="1196" y1="602.53" y2="602.53"/>
<text class="ax" x="118.7" y="606.3" text-anchor="end" textLength="25.6" lengthAdjust="spacingAndGlyphs">0.8</text>
<line class="g" x1="128.5" x2="1196" y1="647.96" y2="647.96"/>
<text class="ax" x="118.7" y="651.5" text-anchor="end" textLength="25.6" lengthAdjust="spacingAndGlyphs">0.6</text>
<line class="g" x1="128.5" x2="1196" y1="693.39" y2="693.39"/>
<text class="ax" x="118.7" y="696.7" text-anchor="end" textLength="25.6" lengthAdjust="spacingAndGlyphs">0.4</text>
<line class="g" x1="128.5" x2="1196" y1="738.82" y2="738.82"/>
<text class="ax" x="118.7" y="741.9" text-anchor="end" textLength="25.6" lengthAdjust="spacingAndGlyphs">0.2</text>
<text class="ax" x="118.7" y="787.1" text-anchor="end" textLength="25.6" lengthAdjust="spacingAndGlyphs">0.0</text>
<line class="g" x1="128.5" x2="1196" y1="829.68" y2="829.68"/>
<text class="ax" x="118.7" y="832.3" text-anchor="end" textLength="31.5" lengthAdjust="spacingAndGlyphs">-0.2</text>
<text class="ax" x="118.7" y="877.5" text-anchor="end" textLength="31.5" lengthAdjust="spacingAndGlyphs">-0.4</text>
<line x1="449" x2="449" y1="557.2" y2="875.2" stroke="#d2d2d2" stroke-width="1.4"/>
<line x1="851.5" x2="851.5" y1="557.2" y2="875.2" stroke="#d2d2d2" stroke-width="1.4"/>
<g clip-path="url(#cEth)">
<polyline class="s" stroke="#3a6fc0" points="129.1,637.2 130.9,638 132.2,627 134.1,628.6 135.6,630.2 138,638 140.3,638.8 142.7,627.8 144.2,615.3 145.5,608.3 147.3,611.4 149.7,614.5 151.2,620 153.6,622.3 156.7,621.6 159.1,624.7 161.4,630.2 163.8,630.9 166.1,626.2 168.4,624.7 170,634.1 172.3,638 173.9,621.6 175.5,613.8 177,614.5 179.4,620 181.7,621.6 183.3,632.5 185.6,644.2 188,652.8 189.5,653.6 191.1,648.1 193.4,640.3 195.8,641.1 197.3,637.2 199.7,631.7 202,632.5 203.6,630.9 205.2,623.1 207.5,621.6 209.8,625.5 212.2,617.7 214.5,620 216.9,624.7 219.2,628.6 221.6,631.7 223.9,637.2 225.5,624.7 227,611.4 229.4,612.2 231.7,614.5 233.3,620 235.6,621.6 238,623.9 239.5,615.3 241.9,618.4 244.2,620 246.6,623.9 248.1,630.2 249.7,628.6 252,632.5 254.4,634.8 256.7,632.5 259.1,627.8 261.4,631.7 263.8,633.3 266.1,625.5 268.4,624.7 270.8,624.7 273.1,632.5 274.4,648.1 275.2,659.1 277,659.8 278.6,663.8 280,664.5 281.7,655.2 284.1,662.2 286.4,656.7 288.8,655.9 291.1,659.8 293.4,664.5 295.8,659.1 298.1,651.2 300.5,643.4 302.8,640.3 305.2,641.1 307.5,640.3 309.8,641.1 312.2,642.7 314.5,641.1 316.1,647.3 318.4,648.1 320,645 321.6,637.2 323.1,630.2 325.5,629.4 327,632.5 329.1,639.5 330.2,637.2 332.5,641.1 334.8,642.7 337.2,646.6 339.5,652.8 342.7,645.8 345,654.4 347.3,655.2 349.7,651.2 352,646.6 354.4,645.8 356.7,647.3 359.1,651.2 360.6,620 362.2,620.8 364.5,623.9 366.9,628.6 370,632.5 372.3,636.4 373.9,646.6 376.2,651.2 378.6,650.5 380.9,644.2 382.5,651.2 384.8,655.2 386.4,670 388,673.1 390.3,670 392.7,667.7 395,659.8 396.6,666.9 398.1,659.1 399.7,656.7 401.2,632.5 402.8,616.9 404.4,612.2 405.9,613.8 408.3,614.5 409.8,617.7 411.4,632.5 413.8,630.9 416.1,630.2 418.4,629.4 420.8,628.6 422.3,618.4 424.7,623.1 427,624.7 430,630.2 431.7,630.9 434.1,621.6 435.6,616.9 438,618.4 440,617.7 441.6,632.5 443.1,640.3 444.7,641.9 446.2,631.7 448.9,630.9 452,630.2 452.8,648.1 454.4,654.4 456.7,656.7 459.1,655.9 461.4,656.7 463,662.2 464.5,668.4 466.9,665.3 469.2,663.8 471.6,662.2 473.9,657.5 476.2,652.8 478.6,649.7 480.6,645 482.2,654.4 483.3,659.8 485.6,656.7 488,653.6 490.3,652 492.7,649.7 495,648.1 497.3,645 499.7,646.6 502,644.2 504.4,643.4 506.7,641.9 509.1,638.8 510.3,621.6 512.2,630.9 514.5,633.3 516.9,632.5 518.8,630.2 520.8,629.4 522.3,634.1 524.7,634.8 526.2,639.5 528.6,638.8 530.9,641.9 533.3,644.2 535.6,641.1 538,638.8 540,638.8 541.9,645 543.4,645.8 545,638.8 547.3,641.9 548.9,649.7 550.5,651.2 552.8,648.1 555.2,644.2 557.5,649.7 559.8,647.3 561.4,641.9 563.4,648.9 565.3,646.6 567.7,642.7 570,639.5 572.3,638.8 574.7,636.4 576.2,630.9 577.8,632.5 580,634.1 580.9,629.4 583.3,631.7 585.6,629.4 588,627.8 589.5,625.5 591.9,632.5 593.4,638.8 594.7,656.7 596.2,640.3 597.8,642.7 599.7,643.4 601.2,644.2 603.6,654.4 605.9,655.2 608.3,655.2 609.8,666.9 611.4,669.2 613.8,660.6 615.3,655.9 617.7,652 619.2,643.4 621.6,643.4 623.9,642.7 625.9,640.3 628.1,632.5 629.4,663.8 630.2,704.4 631.2,706.7 633.3,698.1 634.8,688.8 636.4,683.3 638,680.2 639.5,684.1 641.9,679.4 644.2,673.1 645.8,684.1 647.3,671.6 649.7,668.4 652,663.8 654.1,665.3 655.6,660.6 656.7,668.4 658.8,663.8 660.6,659.8 662.2,655.2 663.8,640.3 665.6,632.5 667.7,625.5 670,624.7 672.3,626.2 674.7,627 677,628.6 679.4,628.6 681.7,632.5 684.1,631.7 685.6,638.8 688,643.4 690,646.6 691.9,638.8 693.8,646.6 695.8,642.7 698.1,637.2 700.5,638.8 702.8,635.6 704.4,637.2 705.9,631.7 708.3,632.5 710.6,633.3 713,623.9 715,623.1 716.9,628.6 720,629.4 722.3,630.2 724.7,629.4 727,631.7 729.1,633.3 730,638.8 730.9,637.2 732.5,648.1 734.4,655.2 736.4,656.7 738,651.2 740.3,650.5 742.7,652 744.2,656.7 746.6,655.2 748.9,654.4 751.2,653.6 753.6,652 755.2,655.2 756.4,668.4 758.3,654.4 759.8,652.8 761.9,659.8 764.5,657.5 766.9,652.8 769.2,648.1 771.6,645.8 773.9,649.7 775.9,655.2 778.1,659.1 780.9,658.3 783.3,655.2 785.6,652 788.8,648.1 791.9,646.6 794.2,647.3 796.6,645 798.9,647.3 801.2,646.6 803.6,648.9 805.2,643.4 806.7,632.5 808.8,623.1 810.6,620 812.5,625.5 814.5,630.2 816.9,631.7 819.2,632.5 821.6,634.8 823.9,637.2 826.2,638.8 827.5,646.6 828.6,654.4 830.9,652 832.8,648.1 834.8,629.4 836.4,624.7 838.8,625.5 841.1,627.8 843.4,627.8 845.8,630.2 848.1,633.3 850.5,634.1 852.8,631.7 855.2,629.4 857.5,627.8 858.8,637.2 859.8,640.3 862.2,642.7 864.5,645 866.1,638.8 867.7,633.3 870,632.5 873.1,631.7 876.2,632.5 880,630.9 880.9,631.9 883.3,633.4 885.6,632.7 888.8,633.4 891.9,635 894.2,634.2 896.6,635 898.1,648.3 900,649.1 902,644.4 903.6,641.2 905.2,642 907.5,641.2 909.8,633.4 912.2,632.7 913.8,648.3 916.1,649.1 918.8,643.6 920,653 922.3,651.4 924.7,652.2 927,652.2 929.1,606.9 930.2,578 932.5,580.3 934.8,583.4 937.2,586.6 939.5,590.5 941.9,594.4 944.2,598.3 946.6,602.2 948.9,606.9 951.2,611.6 953.6,616.2 955.9,620.9 957.8,631.1 959.8,633.4 962.2,635 964.5,635.8 966.9,636.6 968.8,628.8 970.8,624.8 973.1,624.8 976.2,624.1 978.6,627.2 980.9,631.9 983.3,627.2 985.6,628 988.8,630.3 991.9,630.3 995,628.8 997.3,629.5 1000.5,631.9 1002.8,630.3 1005.2,636.6 1006.7,633.4 1009.1,631.9 1011.4,632.7 1013.8,632.7 1016.9,631.9 1019.2,630.3 1021.6,630.3 1023.9,632.7 1026.2,633.4 1028.6,632.7 1030,624.8 1032.3,625.7 1034.9,626.6 1037.6,630.1 1040.2,630.1 1042,623.9 1043.7,631 1046.4,630.1 1049,631 1051.6,631.9 1054.3,632.7 1056.9,623.9 1058.7,630.1 1061.3,632.7 1063.1,640.6 1064.8,646.8 1067.5,649.4 1070.1,647.7 1072.7,650.3 1075.4,652.9 1077.7,655.6 1079.8,662.6 1081.5,666.1 1084.2,657.3 1085.9,646.8 1088.6,643.3 1091.2,650.3 1093.5,655.6 1095.6,659.1 1098.2,657.3 1100.9,664.4 1103.5,660.9 1106.1,660 1107.9,647.7 1110.5,646.8 1113.2,644.2 1115.8,641.5 1118.1,650.3 1120.2,655.6 1122,631 1124.1,622.2 1126.3,623.9 1129,626.6 1132.5,627.5 1136,629.2 1138.1,635.4 1140.4,633.6 1142.2,627.5 1143.9,622.2 1145.7,616 1148,622.2 1151,626.6 1154.5,627.5 1157.1,630.1 1159.7,626.6 1163.3,624.8 1165.9,625.7 1169.4,628.3 1172.9,631 1174.7,627.5 1176.1,620.4 1178.2,623.9 1180.8,625.7 1183.5,626.6 1186.1,624.8 1188.4,627.5 1190.5,634.5 1192.3,631 1194,622.2"/>
<polyline class="s" stroke="#e28432" points="129.1,634.1 130.9,635.6 132.5,629.4 134.4,629.4 135.6,635.6 136.9,646.6 138.4,656.7 140.3,662.2 141.9,659.8 143.4,651.2 145,641.1 147.3,638.8 149.7,631.7 152,625.5 154.4,624.7 156.7,624.7 158.8,625.5 160.3,607.5 162.2,610.6 164.5,616.1 166.9,618.4 169.2,614.5 171.6,616.9 173.1,618.4 174.7,609.1 176.6,608.3 178.6,611.4 180.2,620 182.5,623.9 183.8,651.2 185.6,648.1 188,643.4 190.3,644.2 191.9,634.1 194.2,630.2 195.8,635.6 197.3,640.3 199.7,645 201.2,645.8 203.6,638.8 205.6,620 207.5,619.2 209.8,623.1 212.2,616.9 214.5,618.4 216.9,621.6 219.2,620 221.6,621.6 223.9,624.7 225.5,613.8 227,606.7 229.4,608.3 231.7,611.4 234.1,615.3 236.4,620 238,616.9 239.5,607.5 241.9,613.8 244.2,616.1 247.3,617.7 250.5,616.9 252.8,623.1 255.2,631.7 256.7,632.5 258.8,618.4 260.6,623.1 263,624.7 265.3,618.4 267.7,617.7 270,619.2 272.3,620.8 274.7,623.1 277,627 280,628.6 281.7,623.9 283.3,624.7 284.8,642.7 287.2,641.1 288.8,637.2 291.1,626.2 293.4,623.9 295,626.2 296.6,637.2 298.9,638.8 300.5,623.9 302.8,622.3 305.2,622.3 307.5,624.7 309.8,629.4 312.2,629.4 315.3,628.6 317.7,627.8 319.7,632.5 320.8,615.3 322.3,614.5 324.7,613.8 326.6,615.3 328.6,623.1 330.2,616.1 332.5,614.5 334.1,611.4 336.4,615.3 338.8,617.7 341.9,619.2 345,618.4 348.1,620.8 349.7,629.4 350.9,637.2 353.6,637.2 355.6,638.8 357.5,647.3 359.1,649.7 360.2,607.5 361.4,605.9 363.8,609.8 366.1,613.8 368.4,617.7 370.8,620.8 373.1,624.7 375.5,630.9 377.8,630.2 380.2,631.7 382.5,634.1 384.8,636.4 386.4,649.7 388,652 390.3,651.2 392.7,648.1 395,645.8 396.6,635.6 398.1,615.3 399.7,612.2 402,614.5 403.6,605.2 405.2,601.2 406.2,598.1 407.5,604.4 409.8,606.7 412.2,609.8 414.5,611.4 416.9,613.8 419.2,615.3 420.8,625.5 422.3,627.8 424.7,629.4 427,630.9 430,632.5 431.7,629.4 433.8,616.9 435.6,614.5 438,616.9 440.3,621.6 442.7,623.9 444.2,616.9 446.2,609.1 448.1,613 450.5,616.1 452.8,620 455.2,623.9 457.5,639.5 459.1,640.3 460.6,629.4 463,627 465.3,623.9 466.9,629.4 468.1,649.7 470,654.4 472.3,651.2 473.9,676.2 476.2,671.6 478.6,666.1 480.6,660.6 482.5,653.6 484.8,652 487.2,651.2 489.5,648.1 491.9,644.2 495,643.4 497.3,641.9 498.9,658.3 500.5,663.8 502.8,660.6 505.2,655.2 507.5,649.7 509.8,641.9 511.4,633.3 513.8,637.2 516.1,638.8 518.4,634.8 520.8,633.3 522.3,635.6 524.7,647.3 527.8,645 530.2,643.4 532.5,645 534.8,642.7 537.2,638.8 539.5,636.4 541.9,634.8 544.2,635.6 546.6,638.8 548.9,648.1 550.9,637.2 552.8,646.6 554.4,643.4 556.7,652.8 558,657.5 559.8,647.3 562.2,643.4 564.5,641.9 566.9,638.8 569.2,638 572.3,637.2 574.7,635.6 576.2,644.2 577.8,645 580,644.2 580.9,638.8 583.3,634.8 585.6,637.2 588,631.7 589.5,630.2 591.1,634.1 592.7,639.5 595,637.2 596.6,629.4 598.1,617.7 599.4,630.2 601.2,629.4 603.6,630.9 605.9,634.1 609.1,636.4 611.4,634.8 613.8,633.3 616.1,632.5 618.1,628.6 620,623.9 622.3,625.5 624.7,630.9 627,632.5 629.1,639.5 630.9,648.9 632.5,648.1 634.4,641.9 636.4,638.8 638,655.2 639.1,672.3 641.1,660.6 643.1,655.9 644.7,649.7 646.2,637.2 648.1,634.8 650.5,631.7 652.8,632.5 655.2,630.9 657.5,634.1 659.8,624.7 662.2,620 664.5,618.4 666.6,613 668.8,613.8 670.8,616.9 673.1,620 675,623.9 677,634.1 679.4,630.2 681.7,631.7 683.3,643.4 685.6,646.6 687.5,648.1 688.8,665.3 691.1,663.8 692.7,655.2 695,651.2 695.8,665.3 697.3,645 699.7,641.9 702,642.7 704.4,641.9 706.7,641.1 709.1,646.6 711.4,642.7 713,634.1 715.3,632.5 717.7,633.3 720,634.1 722.3,632.5 724.7,630.2 727,630.9 730,633.3 730.9,632.5 732.5,637.2 734.1,643.4 736.4,641.1 738.8,637.2 741.1,636.4 742.7,623.1 743.8,611.4 745.8,616.9 748.1,623.1 750.5,626.2 753.6,628.6 756.7,628.6 759.1,635.6 761.4,636.4 763.8,640.3 765.6,646.6 767.7,642.7 770,640.3 773.1,638 775,627.8 777,623.9 779.1,627 780.2,633.3 782.5,633.8 785.6,634.1 788.8,634.1 791.9,633.3 795,632.5 797.3,633.3 800.5,630.9 803.6,629.4 806.7,626.2 809.1,620 810.6,616.1 813,620 814.5,626.2 815.6,640.3 816.6,661.4 818.4,662.2 820.8,657.5 823.1,654.4 825.5,651.2 827.8,648.9 830.2,647.3 832.5,644.2 834.8,635.6 836.4,630.2 838.8,634.1 841.1,636.4 843.4,637.2 845.8,638 848.1,643.4 850,651.2 851.2,647.3 854.4,645 857.5,642.7 860.6,640.3 863.8,638.8 866.1,632.5 868.4,631.7 871.6,632.5 874.7,631.7 877,632.5 880,633.3 881.7,635 884.1,635.8 886.4,633.4 888.8,636.6 890.3,642 892.7,635 895,634.2 897.3,630.3 898.4,624.8 900.5,627.2 902,645.2 903.6,649.8 905.6,640.5 907.5,645.2 909.8,642.8 912.2,635 913.8,628 916.1,635 918.4,633.4 920.8,631.9 923.1,630.3 925,622.5 927,623.3 929.1,606.9 930.2,578.8 932.5,582.7 934.8,587.3 937.2,592 939.5,596.7 941.9,601.4 944.2,605.3 946.6,609.2 948.9,613.1 951.2,616.2 953.6,620.2 955.9,623.3 958.3,626.4 960.6,627.2 963,625.6 965.3,624.1 967.7,625.6 968.8,622.5 970,653.8 971.2,656.1 973.1,650.6 975.5,645.9 977.8,642.8 980.2,638.1 982.5,634.2 984.8,633.4 987.2,632.7 989.5,633.4 991.1,637.3 993.1,642 994.2,628.8 995,620.2 997.3,620.9 999.7,621.7 1002,625.6 1004.4,630.3 1006.7,631.9 1009.1,632.7 1011.4,635 1013.8,636.6 1015.6,627.2 1017.7,625.6 1020,630.3 1022.3,635 1024.7,641.2 1027,647.5 1030,649.8 1030.5,638 1033.2,636.2 1035.8,636.2 1038.5,638 1041.1,644.2 1042.5,662.6 1044.6,646.8 1047.2,653.8 1049,657.3 1051.6,649.4 1054.3,653.8 1056.9,657.3 1059.6,653.8 1062.2,652.1 1063.9,667.9 1065.4,682.8 1067.5,676.7 1070.1,669.6 1072.7,666.1 1075.4,671.4 1078,682 1079.8,689 1081.5,695.1 1083.6,688.1 1085.9,684.6 1087.7,703 1089.4,694.3 1091.2,683.7 1093.8,674.9 1096.5,664.4 1099.1,648.6 1101.7,646.8 1104.4,645 1107,640.6 1109.6,638 1111.4,645 1113.2,653.8 1115.8,646.8 1118.1,635.4 1120.2,641.5 1122,639.8 1124.1,623.9 1126.3,627.5 1129,631 1132.5,635.4 1136,634.5 1138.7,631 1141.3,631.9 1143.9,638.9 1146.6,635.4 1149.2,639.8 1151.8,641.5 1154.5,644.2 1157.1,645.9 1159.7,640.6 1162.4,639.8 1165,643.3 1167.7,641.5 1170.3,637.1 1172.9,634.5 1175.6,636.2 1178.2,638 1180.8,636.2 1182.6,645 1185.2,640.6 1187.9,641.5 1190.2,650.3 1192.3,638 1194,639.8"/>
<polyline class="s" stroke="#3a9a4c" points="129.1,616.1 130.9,614.5 132.5,610.6 134.8,612.2 137.2,613 139.5,613.8 141.9,609.1 143.8,602 145,593.4 146.9,594.2 148.9,596.6 151.2,600.5 153.6,602.8 156.7,603.6 159.1,605.9 160.6,598.1 162.5,602.8 165.3,602 167.7,604.4 170,600.5 172.3,603.6 173.9,595.8 175.5,593.4 177.8,595 180.2,598.1 182.5,600.5 184.1,598.9 186.4,603.6 188.8,605.9 190.6,609.8 191.6,617.7 193.1,612.2 195.8,612.2 198.9,611.9 202,611.4 204.4,605.9 205.6,600.5 207.5,602.8 209.8,606.7 212.2,602 214.5,603.6 216.9,605.9 220,608.3 223.1,610.6 224.7,601.2 225.8,594.2 227.8,595 229.4,599.7 230.9,598.9 232.5,604.4 234.8,607.5 237.2,609.1 238.8,602.8 241.1,603.6 243.4,602.8 245,606.7 247.3,608.3 249.7,607.5 252.8,609.1 255.2,609.1 257.5,610.6 259.1,615.3 261.4,614.5 263.8,613.8 265.3,611.4 266.9,614.5 270,614.5 272.3,613.8 274.7,613 277,613.8 280,616.1 281.7,612.2 283.8,612.2 284.8,620.8 287.2,620 289.5,619.2 291.1,616.9 292.7,610.6 294.2,613 295.8,603.6 297.3,602.5 299.7,603.6 302,606.7 303.6,604.4 306.7,605.9 309.8,607.5 313,608.3 316.1,609.1 318.4,612.2 320,613.8 321.6,610.6 323.1,611.4 325,609.8 327,613.8 328.6,616.1 329.8,606.7 330.9,616.1 333.3,614.5 334.8,612.2 337.2,615.3 339.5,619.2 341.9,618.4 344.2,616.1 345.8,614.5 348.1,616.1 350.5,615.3 352.8,621.6 354.4,630.9 355.6,634.8 357.2,634.1 358.3,645 359.5,655.2 360.6,659.1 363,652.8 364.5,644.2 366.9,642.7 369.2,641.1 371.6,635.6 373.9,634.1 376.2,633.3 378.6,632.5 380.9,638 383.3,638.8 384.8,637.2 387.2,630.2 389.5,627 391.9,624.7 393.9,623.1 395.3,631.7 396.6,616.9 397.8,598.1 399.7,600.5 402,603.6 403.6,588.8 404.7,596.6 405.9,602 408.3,603.6 409.8,605.9 411.4,610.6 413.8,607.5 416.1,608.3 418.4,611.4 420.8,609.8 423.1,612.2 426.2,613 428.1,616.9 429.4,632.5 430,634.1 432.5,631.7 434.1,621.6 435.6,617.7 437.2,623.1 438.8,629.4 441.1,627.8 442.7,620 445,621.6 447.3,615.3 449.7,614.5 452,611.4 453.6,615.3 455.9,615.3 458.3,614.5 459.8,601.2 461.4,599.7 463.4,603.6 465.3,600.5 467.7,603.6 470,604.4 472.3,605.2 474.7,608.3 477,611.4 478.6,614.5 480.6,607.5 482.2,611.4 483.3,616.1 485.6,616.1 488,623.9 490,627 492.2,616.9 494.7,617.7 496.6,628.6 498.1,634.8 500.5,634.8 502,627.8 503.6,621.6 505.2,627.8 506.7,623.9 509.1,616.1 510.6,614.5 513,616.9 515.3,616.9 517.7,617.7 520,611.4 522.3,611.4 524.7,613.8 527,616.9 529.4,616.1 531.7,615.3 534.1,616.1 536.4,615.3 538.8,617.7 541.9,616.9 545,613.8 547.3,617.7 549.4,616.9 550.9,600.5 552.8,602.8 554.4,602.8 555.9,607.5 557.2,625.5 559.1,624.7 560.6,618.4 563,616.1 565.3,617.7 567.7,623.1 569.2,628.6 570.8,627.8 573.1,623.9 574.7,616.9 576.2,610.6 577.8,612.2 580,615.3 580.9,617.7 583.3,620 585.6,626.2 588,620.8 590.3,623.9 592.7,620 594.2,609.8 596.6,607.5 598.1,600.5 599.4,611.4 601.2,612.2 603.6,609.8 606.7,611.4 609.1,612.2 611.4,610.6 613.8,613 615.3,610.6 617.7,614.5 619.7,609.1 621.6,609.1 623.9,615.3 625.5,615.3 627.5,623.9 629.4,620 631.7,620 634.1,618.4 636.4,616.1 638.8,616.1 641.1,615.3 643.1,616.9 644.5,630.2 645.5,608.3 647.3,606.7 649.7,611.4 652,612.2 654.4,611.4 656.7,609.8 658.8,615.3 660.6,609.8 663,610.6 664.5,602 666.6,597.3 668.8,598.9 670.8,601.2 673.1,605.2 675.5,607.5 677.8,609.1 680.2,611.4 682.5,612.2 684.8,614.5 687.2,616.9 689.1,620 691.1,616.9 693.4,613 695.8,612.2 698.1,613.8 700.5,620 702.5,625.5 704.4,628.6 706.7,623.1 709.1,621.6 711.4,620.8 713.4,611.4 715.3,611.4 717.7,613.8 720,613 722.3,613 724.7,616.9 726.2,616.1 727.8,620 730,620.8 731.7,622.3 733.3,623.1 734.4,630.2 735.6,621.6 738,620 740.3,618.4 741.9,607.5 743.4,598.9 745.3,601.2 747.3,604.4 749.7,605.9 752,607.5 754.4,609.1 756.7,607.5 758.8,614.5 760.9,615.3 763.8,616.1 766.9,614.5 770,616.1 773.1,616.1 775,609.1 776.6,602 778.6,602 780.9,604.4 783.3,609.1 785.6,612.2 788.8,612.2 790.3,624.7 791.6,647.3 793.4,643.4 795.8,637.2 798.1,630.9 800.5,626.2 802.8,624.7 805.2,625.5 806.4,614.5 808.3,617.7 809.8,613 812.2,612.2 815.3,613 817.7,613.8 818.8,626.2 820.8,630.9 823.1,628.6 825.5,626.2 827.8,624.7 830.2,623.9 832.5,625.5 834.1,621.6 835.3,609.1 836.4,602.8 838.4,607.5 841.1,609.1 843.4,610.6 846.6,612.2 849.7,611.4 852.8,610.6 855.2,613.8 857.5,609.8 859.8,616.1 862.2,616.1 864.5,614.5 866.1,603.6 868.1,604.4 870,611.4 872.3,612.2 874.7,616.1 877,616.9 880,614.5 881.7,615.5 884.1,613.9 886.4,613.9 888.8,614.7 890.3,610.8 891.9,616.2 894.2,617 896.6,615.5 898.9,614.7 901.2,612.3 903.1,621.7 905.2,622.5 906.7,631.1 909.1,631.1 910.9,627.2 913,612.3 915.3,613.1 917.7,611.6 920,612.3 922.3,610 923.9,613.9 925,598.3 926.6,596.7 928.1,602.2 929.1,583.4 930.2,567 931.7,567.8 934.1,570.2 936.4,573.3 938.8,576.4 941.1,579.5 943.4,583.4 945,588.1 946.6,593.6 948.9,596.7 951.2,601.4 953.6,605.3 955.9,607.7 958.3,610.8 960.6,612.3 962.2,620.2 964.5,622.5 966.9,622.5 969.2,621.7 970.8,616.2 973.1,613.9 975.5,613.1 977.8,613.1 980.2,614.7 982.5,615.5 984.8,614.7 986.4,619.4 988.8,621.7 991.1,620.9 993.4,622.5 995,625.6 997.3,621.7 999.7,620.2 1002.5,619.4 1004.4,631.1 1006.7,624.8 1009.1,624.1 1011.4,624.8 1014.5,622.5 1015.3,653.8 1016.1,688.1 1017.7,685 1020,680.3 1022.3,677.2 1024.7,669.4 1026.2,663.9 1027.8,677.2 1030,662.3 1031.4,660.9 1034.1,653.8 1036.7,646.8 1039.3,640.6 1042,639.8 1044.6,632.7 1047.2,629.2 1049.9,626.6 1052.5,625.7 1055.2,628.3 1057.3,639.8 1059.6,636.2 1062.2,631.9 1063.9,637.1 1066.6,631 1069.2,626.6 1071.9,623.1 1073.6,622.2 1075.4,613.4 1076.6,611.6 1078.4,621.3 1080.6,626.6 1083.3,631 1085.4,627.5 1087.7,621.3 1090.3,619.6 1092.9,618.7 1095.6,621.3 1097,619.6 1098.2,641.5 1100,643.3 1102.6,639.8 1105.3,633.6 1107.5,623.1 1109.6,620.4 1112.3,616 1114.9,616 1117.6,611.6 1120.2,609.9 1122,599.3 1124.6,595.8 1127.2,597.6 1129.9,601.1 1132.5,609 1134.3,614.3 1136.9,615.2 1139.5,612.5 1142.2,612.5 1143.9,607.2 1145.7,604.6 1148.3,609 1151,616.9 1153.6,622.2 1156.2,619.6 1158.9,616.9 1161.5,617.8 1163.3,613.4 1165,622.2 1167.7,621.3 1170.3,618.7 1172.9,616 1175.6,612.5 1178.2,612.5 1180.8,611.6 1183.5,609.9 1186.1,611.6 1188.8,609 1191.4,615.2 1193.1,623.1 1194.9,620.4"/>
<polyline class="s" stroke="#d3222d" points="129.1,655.9 130.9,652.8 132.5,649.7 134.1,650.5 135.6,655.9 138,659.1 139.5,660.6 141.9,655.2 143.4,651.2 144.7,626.2 146.6,629.4 148.9,631.7 150.5,642.7 152.8,641.1 155.2,643.4 157.2,641.9 158.8,646.6 160.3,621.6 162.2,623.9 163.8,628.6 165.3,640.3 166.9,646.6 169.2,649.7 171.6,654.4 173.9,661.4 175,637.2 177,640.3 179.4,643.4 181.7,645 184.1,641.9 186.4,643.4 188.4,640.3 189.5,646.6 191.1,654.4 193.4,648.9 195,656.7 196.6,659.8 198.9,660.6 202,662.2 204.4,651.2 206.2,638.8 208.3,641.1 209.8,638.8 212.2,633.3 214.5,636.4 216.9,639.5 220,638.8 222.3,644.2 223.9,645 225.2,630.2 226.7,626.2 227.8,637.2 230.2,636.4 231.7,638.8 234.1,641.9 236.4,644.2 238,635.6 239.1,623.9 240.3,638.8 242.7,643.4 243.8,673.1 244.5,690.3 246.2,686.4 248.1,680.9 249.7,673.1 252,670 254.4,670 256.7,668.4 258.3,659.1 260.6,660.6 263,665.3 265.3,656.7 266.9,652 269.2,652.8 271.6,650.5 273.9,645.8 276.2,649.7 278.6,652 280,652.8 280.9,651.2 283.3,657.5 285.6,654.4 288,652 289.5,644.2 291.9,635.6 294.2,634.1 296.6,632.5 298.9,638 301.2,637.2 303.6,634.1 305.9,636.4 307.5,641.9 309.1,654.4 310.3,676.2 311.4,684.1 313,677.8 315.3,671.6 316.9,666.9 318.4,674.7 320,680.2 321.1,630.9 323.1,631.7 325.5,635.6 327,641.9 328.6,645 330.2,638 331.7,649.7 334.1,648.1 335.6,641.9 338,641.1 339.5,636.4 341.9,637.2 344.2,635.6 346.6,635.6 348.9,638.8 351.2,640.3 353.6,645 355.9,647.3 358.3,649.7 359.8,651.2 360.6,619.2 362.2,620.8 364.5,625.5 366.9,630.9 369.2,637.2 371.6,640.3 373.9,643.4 376.2,651.2 378.6,655.2 380.9,652 382.5,658.3 384.8,663 387.2,664.5 389.1,654.4 391.1,653.6 393.4,655.2 395.8,655.2 396.9,645 398.1,620.8 399.7,623.9 402,631.7 403.6,611.4 405.2,613 407.5,617.7 409.8,621.6 411.4,625.5 413.8,624.7 416.1,628.6 418.4,630.9 420.8,632.5 421.6,663.8 422.3,699.7 424.7,703.6 426.2,695 427.8,688.8 430,681.7 432.5,671.6 434.8,663.8 437.2,657.5 439.5,655.2 441.1,663.8 443.1,673.1 445,660.6 446.6,650.5 448.9,649.7 451.2,647.3 453.6,651.2 456.7,652 458.8,652.8 460.3,624.7 462.2,627.8 464.5,630.2 466.9,632.5 469.2,637.2 472.3,637.2 474.7,640.3 477,644.2 478.6,651.2 480.2,646.6 482.5,649.7 485.6,651.2 488.8,650.5 490.3,652.8 492.7,641.1 495,643.4 497.3,644.2 499.7,647.3 502.8,648.1 505.9,647.3 509.1,646.6 510.6,624.7 512.2,632.5 514.5,637.2 516.9,641.1 519.2,649.7 520.8,657.5 522.3,662.2 524.7,659.1 527.8,656.7 530.2,657.5 531.7,655.2 534.1,656.7 536.4,655.9 538,652.8 540,655.2 541.1,670 541.9,702.8 544.2,698.1 546.6,691.9 548.9,685.6 550.5,684.8 552,691.1 553.6,686.4 555.2,677.8 557.5,673.1 559.8,666.9 561.4,659.1 563.8,655.9 566.1,654.4 568.4,655.9 570.8,655.2 573.1,659.1 574.7,659.8 576.2,648.1 578.6,647.3 580,646.6 580.9,647.3 583.3,652.8 585.6,657.5 588,659.8 590.3,658.3 591.9,667.7 593.4,660.6 595,655.2 596.6,660.6 598.1,643.4 600.5,642.7 602,654.4 603.6,667.7 605.9,670 608.3,673.1 609.8,684.8 611.9,685.6 613.4,677.8 615,690.3 616.9,679.4 618.8,670 620.8,669.2 623.1,666.1 625,671.6 626.6,679.4 628.1,670 630.2,669.2 631.7,685.6 633.3,701.2 634.8,698.9 636.4,695 638.8,688.8 641.1,679.4 643.4,670 645,659.8 646.9,657.5 648.9,663.8 650.5,676.2 652,688.8 654.4,693.4 656.7,702.8 659.1,707.5 660.9,705.9 663,699.7 664.5,679.4 666.1,662.2 667.7,654.4 670,659.1 672.3,663.8 673.4,677 675.5,677 677.8,673.1 679.4,663.8 681.7,665.3 683.3,668.4 685.3,677.8 687.2,680.2 689.1,666.9 691.1,667.7 693.4,671.6 695.8,670.8 697.8,665.3 698.9,651.2 701.2,654.4 702.8,659.8 705.2,652.8 707.2,648.9 709.4,651.2 710.9,654.4 712.5,664.5 714.1,648.1 716.1,654.4 718.1,660.6 720.8,665.3 722.8,660.6 724.7,659.1 726.2,668.4 728.1,670 729.7,677.8 731.7,678.6 733.8,676.2 735.6,683.3 737.2,677.8 738.8,671.6 740.3,674.7 741.9,648.1 743.4,629.4 745.8,632.5 747.8,635.6 749.7,645 752,648.1 754.4,648.1 757.5,652.8 759.1,656.7 760.3,647.3 762.2,649.7 764.5,652.8 766.9,649.7 769.7,647.3 772.3,651.2 774.4,655.2 775.9,645 777.5,642.7 779.4,649.7 781.7,654.4 784.1,655.2 786.4,656.7 788.8,660.6 790.3,663.8 792.7,659.1 795,660.6 797.3,662.2 799.7,663.8 802,657.5 804.4,655.9 806.7,661.4 808.8,651.2 810.3,645 812.2,656.7 815.3,655.2 818.4,654.4 820.8,657.5 823.1,659.1 825.5,656.7 827.8,659.8 830.2,656.7 831.7,663.8 833.3,663 834.8,640.3 836.4,628.6 838.8,632.5 841.1,637.2 843.4,641.9 845.8,645 848.1,651.2 850,655.2 852,655.9 853.6,675.5 855.2,676.2 857.2,658.3 859.4,657.5 861.4,660.6 863,656.7 864.5,662.2 866.1,699.7 868.4,690.3 870.8,682.5 873.9,674.7 876.2,668.4 878.6,663.8 880,662.2 881.7,660 883.3,660 884.8,667.8 887.2,664.7 888.8,663.9 890.3,675.6 891.7,685.5 894.2,680.3 896.6,667.8 898.1,676.4 900.5,666.2 902,660.8 903.6,670.2 905.2,661.6 907.5,664.7 909.8,660.8 912.2,656.9 914.5,650.6 916.9,651.4 919.2,647.5 921.6,649.8 923.1,667.8 924.4,689.7 926.2,681.1 928.6,679.5 929.4,622.5 930.2,593.6 932.5,597.5 934.8,600.6 937.2,605.3 939.5,610 941.9,614.7 944.2,619.4 946.6,623.3 948.9,627.2 951.2,631.1 953.6,635 955.6,638.1 957.2,647.5 959.1,657.7 960.9,658.4 962.2,650.6 964.5,650.6 966.9,649.1 968.4,641.2 970.8,646.7 973.1,642.8 975.5,641.2 977.8,644.4 980.2,649.8 982.5,646.7 984.8,645.2 987.2,647.5 989.5,655.3 991.9,661.6 994.2,664.7 996.2,669.4 999.7,670.2 1002,663.1 1004.4,667.8 1006.7,667.8 1009.1,661.6 1011.4,659.2 1013.8,659.2 1016.1,660 1018.4,655.3 1020.8,657.7 1023.1,656.9 1025.5,657.7 1027.8,658.4 1030,663.1 1030.9,652.9 1032.7,652.9 1034.1,671.4 1036.7,670.5 1039.3,669.6 1041.1,666.1 1042.5,652.9 1044.3,664.4 1046.4,660.9 1049,657.3 1051.6,659.1 1054.3,668.8 1056.9,660.9 1059.6,655.6 1062.2,655.6 1064.8,656.5 1067.5,653.8 1070.1,659.1 1072.7,662.6 1075.4,667 1077.7,676.7 1079.8,678.4 1082.4,685.5 1085,687.2 1086.8,706.6 1088.9,696 1091.2,689 1093.8,685.5 1095.9,689.9 1097.3,679.3 1098.8,696 1100.5,705.7 1102.6,701.3 1104.7,702.2 1107,694.3 1109.6,685.5 1112.3,676.7 1114.9,671.4 1117.6,669.6 1119.8,666.1 1122,648.6 1124.1,624.8 1126.3,628.3 1129,631.9 1132.5,638 1135.1,640.6 1137.4,651.2 1139.9,653.8 1142.2,647.7 1144.8,633.6 1147.4,639.8 1151,645 1152.7,660 1155.4,662.6 1158,660 1160.6,659.1 1163.3,671.4 1165,690.7 1167.7,685.5 1170.3,678.4 1172.9,673.2 1175,660.9 1177.3,660.9 1180,659.1 1182.6,653.8 1185.2,655.6 1187,662.6 1189.1,660.9 1190.9,666.1 1192.6,639.8 1194.4,638"/>
<polyline class="s" stroke="#505154" points="129.1,679.4 130.2,684.1 131.7,666.1 133.8,666.1 135.3,677.8 137.2,685.6 139.5,689.5 141.1,687.2 142.2,674.7 144.2,671.6 145.3,649.7 147.3,652 148.9,655.2 150.5,663 152.8,665.3 155.2,663.8 157.5,663 159.8,659.1 160.9,646.6 162.5,652.8 164.5,656.7 166.9,655.9 168.8,649.7 170.8,654.4 173.1,659.8 175,649.7 176.6,655.2 178.6,657.5 180.9,662.2 183,667.7 184.4,662.2 186.4,662.2 188,686.4 189.5,687.2 191.1,693.4 192.7,676.2 194.7,679.4 196.9,686.4 198.9,677.8 201.2,674.7 203.6,670 205.6,662.2 207.5,662.2 209.8,663 212.2,648.1 214.5,652.8 216.6,655.9 219.2,655.2 221.6,659.8 224.4,666.9 225.5,649.7 226.6,640.3 228.6,639.5 230.9,639.5 232.2,643.4 234.1,648.1 236.4,655.2 238,663.8 239.1,646.6 241.1,651.2 243.4,654.4 245.8,655.9 248.1,658.3 249.7,655.9 252,659.1 254.1,666.9 255.9,669.2 258.3,662.2 259.8,660.6 261.4,673.1 263,677.8 265.3,676.2 267.7,671.6 269.7,666.9 271.6,666.1 273.9,673.1 276.2,677 277.5,688.8 278.6,702.8 280,700.5 281.7,685.6 284.1,681.7 286.4,678.6 288.4,677.8 290.3,663.8 292.7,660.6 295,655.2 296.6,652 298.9,656.7 300.5,652.8 301.7,651.2 303.1,657.5 305.2,663 307.5,664.5 309.8,668.4 311.4,673.1 313.8,673.1 316.1,671.6 318.4,673.1 320,673.9 321.2,635.6 322.3,641.9 324.7,641.9 327,646.6 328.6,649.7 329.8,637.2 331.2,646.6 334.1,646.6 336.4,652 338.8,662.2 341.1,670 342.7,665.3 345,665.3 347.3,663.8 349.7,666.9 352,670 353.6,677 355.9,677.8 358.3,677.8 359.4,700 359.7,746.9 360.2,785.2 360.6,829.7 362.2,817.2 363.8,804.7 366.1,785.2 368.4,768.8 370.8,756.2 373.1,745.3 376.2,729.7 379.4,718.8 380.9,706.2 383.3,701.6 386.4,694.2 388.8,688 391.1,684.8 393.4,682.5 396.2,684.1 397.3,657.5 398.1,648.1 399.7,651.2 402.5,659.1 403.6,635.6 405.2,632.5 407.5,638.8 409.8,642.7 412.2,646.6 414.5,648.9 416.9,652 419.2,649.7 420.8,655.2 423.1,661.4 425.5,663 427.5,662.2 428.6,676.2 430,679.4 430.9,676.2 432.8,677 434.4,655.2 436.4,663.8 438,663 439.5,663.8 441.1,676.2 442.7,679.4 443.8,690.3 445,673.9 446.6,688.8 448.1,695 450.5,686.4 452,690.3 454.4,690.3 457.5,689.5 458.8,699.7 459.8,703.6 460.9,678.6 463,677.8 465.3,675.5 467.7,675.5 469.2,677.8 470.8,682.5 472.3,678.6 473.9,678.6 475,693.4 476.2,713.8 478.6,708.3 480.9,707.5 483.3,699.7 485.6,695 488,690.3 490.3,690.3 492.2,685.6 494.2,683.3 496.6,680.2 498.9,681.7 501.2,680.9 502.5,659.1 504.1,659.8 505.2,668.4 507.5,670 509.1,679.4 510.3,707.5 511.4,713.8 513,710.6 514.5,720 516.6,717.7 518.4,709.8 520,685.6 521.9,692.7 523.9,690.3 527,688.8 530.2,687.2 532.5,685.6 534.8,686.4 537.2,682.5 539.5,680.9 541.9,679.4 544.2,681.7 547.3,680.9 549.7,683.3 551.2,652 553.6,654.4 555.9,657.5 558.3,662.2 560.6,663.8 563,667.7 565.3,668.4 566.9,677 568.4,673.9 570.8,679.4 572.3,684.1 574.7,691.1 576.2,684.8 578.6,685.6 580,685.6 580.9,685.6 582.8,682.5 584.8,689.5 586.9,687.2 588.4,680.9 590.3,682.5 591.9,681.7 593.8,691.9 595.3,679.4 596.9,666.9 598.4,670 600.5,673.1 602.5,668.4 604.7,679.4 607.5,680.9 609.8,681.7 610.9,671.6 612.2,709.8 614.5,710.6 616.1,703.6 618.1,701.2 619.7,688.8 621.6,684.1 623.9,683.3 626.2,685.6 628.1,690.3 629.4,698.9 631.7,699.7 633.3,703.6 635.3,701.2 637.2,700.5 639.5,707.5 641.1,713 643.1,710.6 644.2,720 645.3,705.9 646.6,684.1 648.1,674.7 650.5,676.2 652,673.1 654.4,673.9 655.9,677.8 657.5,685.6 658.8,699.7 660.3,682.5 662.2,679.4 663.4,666.9 664.5,655.9 666.6,652 668.8,651.2 670.8,655.2 673.1,658.3 675.5,660.6 677.8,659.1 680.2,662.2 682.5,665.3 684.8,667.7 687.2,668.4 689.1,680.9 691.1,684.8 692.7,688.8 694.7,677.8 696.6,677.8 698.1,665.3 700.5,668.4 702.5,670 704.4,666.9 705.9,673.1 707.5,683.3 709.4,685.6 711.4,690.3 713.8,693.4 716.1,696.6 717.7,702.8 719.7,695 721.6,690.3 723.6,685.6 725.5,688.8 727.8,687.2 730,685.6 731.7,684.8 733.8,687.2 735.6,674.7 738,676.2 740.3,677.8 741.9,660.6 743.4,651.2 745,663.8 746.6,673.9 749.7,674.7 752.8,673.1 755.9,672.3 758.3,670.8 760.6,668.4 763,670 765.3,674.7 766.9,679.4 768.1,690.3 770,690.3 773.1,686.4 774.7,682.5 776.6,693.4 778.6,696.6 780.9,690.3 783.3,686.4 786.4,684.1 788.8,682.5 791.1,680.9 793.1,686.4 794.7,699.7 796.6,705.2 798.9,700.5 801.2,697.3 803.6,694.2 805.6,697.3 807.2,682.5 808.8,695 809.8,710.6 810.9,727 812.5,722.3 814.5,716.1 816.6,717.7 818.4,711.4 820.8,707.5 823.1,702.8 825.5,701.2 827.8,698.1 830.2,695 832.5,694.2 834.4,685.6 836.4,671.6 838.8,672.3 841.9,669.2 845,671.6 848.1,673.9 850.5,672.3 852.8,671.6 855.2,673.1 856.3,680 857.3,733.1 858.9,725.3 860,718 861.4,713.8 863.4,707.5 865.3,720.8 867.7,717.7 870,710.6 872.3,704.4 874.7,698.1 877,691.9 880,684.1 880.8,684.7 883.1,681.6 884.7,680 886.4,676.4 888,677.2 889.1,680 890.2,692.5 891.2,703.4 892.5,711.2 894.1,719.1 895.6,727.7 897.5,724.5 899.5,722.2 901.1,713.6 902.2,708.1 903.8,701.9 905.3,703.4 906.2,690.2 908.1,687.8 910.5,686.2 911.6,680 913,669.4 914.1,664.7 915.6,674.1 917.7,672.5 920,670.2 922.3,676.4 923.9,686.6 925,661.6 925.9,651.4 927.5,661.6 928.6,655.3 929.4,622.5 930.2,601.4 931.7,605.3 934.1,612.3 936.4,619.4 938.8,625.6 941.1,632.7 943.4,638.1 945,645.2 947.3,650.6 949.7,653 952,655.3 954.4,657.7 956.2,661.6 957.5,645.9 959.1,655.3 961.4,660.8 963.8,663.9 966.6,667 968.4,647.5 970,652.2 972.3,654.5 974.7,658.4 977,666.2 979.4,672.5 981.2,677.2 983.3,668.6 985.6,667.8 988,669.4 990.3,676.4 992.7,674.8 994.2,676.4 995.8,651.4 997.3,655.3 999.7,663.1 1002,667.8 1004.4,672.5 1006.7,670.9 1009.1,671.7 1012.2,672.5 1013.8,683.4 1016.1,688.9 1017.7,678.8 1020,676.4 1021.6,674.8 1023.9,678 1026.2,678.8 1028.6,680.3 1030,678 1031.4,676.7 1034.1,675.8 1036.7,676.7 1038.5,692.5 1039.3,703 1041.1,696 1042.9,690.7 1044.3,719.7 1046.4,713.6 1049,701.3 1051.6,696 1054.3,696.9 1056,699.5 1057.8,703 1060.1,694.3 1063.1,691.6 1066.1,689.9 1068.3,694.3 1071,694.3 1072.7,706.6 1074.8,718.9 1076.6,721.5 1078.4,706.6 1080.6,720.6 1082.4,724.1 1084.7,704.8 1086.8,727.7 1088.9,722.4 1091.2,717.1 1093.8,708.3 1096.5,703 1097.7,699.5 1099.1,721.5 1101.2,715.4 1103.5,709.2 1106.1,703 1107.9,682 1110.5,675.8 1112.3,672.3 1114.9,671.4 1116.7,666.1 1118.4,667.9 1120.2,681.1 1122,653.8 1124.6,644.2 1127.2,647.7 1129.9,650.3 1133.4,651.2 1136,657.3 1137.8,673.2 1139.9,676.7 1141.6,663.5 1143.9,660.9 1145.7,653.8 1148.3,659.1 1151,663.5 1153.6,666.1 1156.2,668.8 1158,671.4 1160.6,666.1 1163.3,667 1165.9,666.1 1168.5,669.6 1171.2,674.9 1173.8,680.2 1175,698.7 1176.8,686.3 1179.1,685.5 1181.4,682 1183.5,687.2 1186.1,688.1 1187.3,691.6 1189.1,684.6 1191.4,675.8 1193.1,669.6 1194.4,675.8"/>
</g>
<line x1="128.5" x2="1196" y1="785.1" y2="785.1" stroke="#111" stroke-width="1.7"/>
<rect x="128.5" y="557.2" width="1067.5" height="318.0" fill="none" stroke="#111" stroke-width="1.9"/>
<text class="ax" x="132.7" y="899.1" text-anchor="middle" textLength="3.5" lengthAdjust="spacingAndGlyphs">I</text>
<text class="ax" x="196.3" y="899.1" text-anchor="middle" textLength="9" lengthAdjust="spacingAndGlyphs">II</text>
<text class="ax" x="296.7" y="899.1" text-anchor="middle" textLength="14.5" lengthAdjust="spacingAndGlyphs">III</text>
<text class="ax" x="398.3" y="899.1" text-anchor="middle" textLength="15.5" lengthAdjust="spacingAndGlyphs">IV</text>
<text class="ax" x="499" y="899.1" text-anchor="middle" textLength="3.5" lengthAdjust="spacingAndGlyphs">I</text>
<text class="ax" x="597" y="899.1" text-anchor="middle" textLength="9" lengthAdjust="spacingAndGlyphs">II</text>
<text class="ax" x="699" y="899.1" text-anchor="middle" textLength="14.5" lengthAdjust="spacingAndGlyphs">III</text>
<text class="ax" x="800" y="899.1" text-anchor="middle" textLength="15.5" lengthAdjust="spacingAndGlyphs">IV</text>
<text class="ax" x="901" y="899.1" text-anchor="middle" textLength="3.5" lengthAdjust="spacingAndGlyphs">I</text>
<text class="ax" x="1001" y="899.1" text-anchor="middle" textLength="9" lengthAdjust="spacingAndGlyphs">II</text>
<text class="ax" x="1101" y="899.1" text-anchor="middle" textLength="14.5" lengthAdjust="spacingAndGlyphs">III</text>
<text class="ax" x="1180" y="899.1" text-anchor="middle" textLength="15.5" lengthAdjust="spacingAndGlyphs">IV</text>
<text class="ax" x="283.7" y="932.5" text-anchor="middle" textLength="41.2" lengthAdjust="spacingAndGlyphs">2018</text>
<text class="ax" x="650" y="932.5" text-anchor="middle" textLength="41.2" lengthAdjust="spacingAndGlyphs">2019</text>
<text class="ax" x="1029" y="932.5" text-anchor="middle" textLength="41.2" lengthAdjust="spacingAndGlyphs">2020</text>
<text class="yt" transform="translate(22.9,787.5) rotate(-90) scale(1,1.06)" text-anchor="middle">Dynamic Conditional Correlations of DeFi-</text>
<text class="yt" transform="translate(53.9,787.5) rotate(-90) scale(1,1.06)" text-anchor="middle">focused Tokens and Ethereum</text>
<rect x="446.5" y="945" width="400.5" height="57.700000000000045" fill="#fff" stroke="#d9d9d9" stroke-width="1"/>
<line x1="455.8" x2="505.5" y1="961.6" y2="961.6" stroke="#3a6fc0" stroke-width="2"/>
<text class="lg" x="513.5" y="965.6" textLength="59.5" lengthAdjust="spacingAndGlyphs">Eth_Link</text>
<line x1="588.8" x2="637" y1="961.6" y2="961.6" stroke="#e28432" stroke-width="2"/>
<text class="lg" x="645.8" y="965.6" textLength="51.5" lengthAdjust="spacingAndGlyphs">Eth_Lrc</text>
<line x1="716.5" x2="765.5" y1="961.6" y2="961.6" stroke="#3a9a4c" stroke-width="2"/>
<text class="lg" x="774.3" y="965.6" textLength="61.2" lengthAdjust="spacingAndGlyphs">Eth_Mkr</text>
<line x1="455.8" x2="505.5" y1="987.5" y2="987.5" stroke="#d3222d" stroke-width="2"/>
<text class="lg" x="513.5" y="991.5" textLength="58.8" lengthAdjust="spacingAndGlyphs">Eth_Ren</text>
<line x1="588.8" x2="637" y1="987.5" y2="987.5" stroke="#505154" stroke-width="2"/>
<text class="lg" x="645.8" y="991.5" textLength="56.7" lengthAdjust="spacingAndGlyphs">Eth_Snx</text>
</svg></body></html>
